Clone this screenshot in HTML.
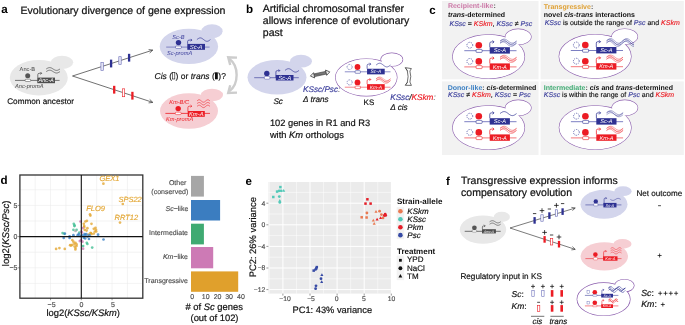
<!DOCTYPE html><html><head><meta charset="utf-8"><style>html,body{margin:0;padding:0;background:#fff;width:685px;height:325px;overflow:hidden}svg{display:block;font-family:"Liberation Sans", sans-serif;will-change:transform;text-rendering:geometricPrecision}</style></head><body>
<svg width="685" height="325" viewBox="0 0 685 325">
<text x="1.3" y="13.3" font-size="11.6" fill="#000" font-weight="bold" font-style="normal" text-anchor="start"  stroke="none">a</text>
<text x="20.5" y="13.6" font-size="10.57" fill="#111111" font-weight="normal" font-style="normal" text-anchor="start"  stroke="#111111" stroke-width="0.222">Evolutionary divergence of gene expression</text>
<ellipse cx="62" cy="62.3" rx="11.2" ry="6.6" fill="#e8e8e8"/>
<ellipse cx="38.8" cy="77.7" rx="29" ry="17.7" fill="#e8e8e8"/>
<text x="19.6" y="70.9" font-size="5.7" fill="#444" font-weight="normal" font-style="normal" text-anchor="start"  stroke="none">Anc-B</text>
<line x1="15" y1="80.4" x2="59.6" y2="80.4" stroke="#555" stroke-width="0.8"/>
<circle cx="27.7" cy="75.7" r="2.5" fill="#555"/>
<rect x="25.1" y="79.2" width="5.6" height="2.3" rx="0.9" fill="#fff" stroke="#444" stroke-width="0.5"/>
<path d="M37.80,77.70 V74.70 Q37.80,73.30 39.20,73.30 H41.70" fill="none" stroke="#444" stroke-width="0.7"/>
<path d="M40.50,72.10 L41.70,73.30 L40.50,74.50" fill="none" stroke="#444" stroke-width="0.7"/>
<rect x="37.30" y="77.60" width="17.70" height="5.60" fill="#4d4d4d"/>
<text x="46.15" y="82.40" font-size="5.60" fill="#fff" font-style="italic" font-weight="normal" text-anchor="middle" stroke="none">Anc-A</text>
<polyline points="46.20,69.00 46.55,68.78 46.89,68.57 47.23,68.36 47.58,68.18 47.93,68.01 48.27,67.87 48.62,67.75 48.96,67.67 49.30,67.62 49.65,67.60 50.00,67.62 50.34,67.67 50.69,67.75 51.03,67.87 51.38,68.01 51.72,68.18 52.06,68.36 52.41,68.57 52.76,68.78 53.10,69.00 53.45,69.22 53.79,69.43 54.13,69.64 54.48,69.82 54.83,69.99 55.17,70.13 55.52,70.25 55.86,70.33 56.20,70.38 56.55,70.40 56.90,70.38 57.24,70.33 57.59,70.25 57.93,70.13 58.27,69.99 58.62,69.82 58.97,69.64 59.31,69.43 59.66,69.22 60.00,69.00" fill="none" stroke="#444" stroke-width="0.7"/>
<polyline points="46.20,71.60 46.55,71.38 46.89,71.17 47.23,70.96 47.58,70.78 47.93,70.61 48.27,70.47 48.62,70.35 48.96,70.27 49.30,70.22 49.65,70.20 50.00,70.22 50.34,70.27 50.69,70.35 51.03,70.47 51.38,70.61 51.72,70.78 52.06,70.96 52.41,71.17 52.76,71.38 53.10,71.60 53.45,71.82 53.79,72.03 54.13,72.24 54.48,72.42 54.83,72.59 55.17,72.73 55.52,72.85 55.86,72.93 56.20,72.98 56.55,73.00 56.90,72.98 57.24,72.93 57.59,72.85 57.93,72.73 58.27,72.59 58.62,72.42 58.97,72.24 59.31,72.03 59.66,71.82 60.00,71.60" fill="none" stroke="#444" stroke-width="0.7"/>
<text x="15" y="87.7" font-size="5.7" fill="#444" font-weight="normal" font-style="italic" text-anchor="start"  stroke="none">Anc-promA</text>
<text x="7.2" y="103.7" font-size="8.2" fill="#111111" font-weight="normal" font-style="normal" text-anchor="start"  stroke="#111111" stroke-width="0.172">Common ancestor</text>
<line x1="72.5" y1="76" x2="152.5" y2="50.2" stroke="#333" stroke-width="0.7"/>
<path d="M148.6,49.6 L152.8,50.1 L149.7,53" fill="none" stroke="#333" stroke-width="0.7"/>
<line x1="72.5" y1="76" x2="152.5" y2="102.3" stroke="#333" stroke-width="0.7"/>
<path d="M149.7,99.4 L152.8,102.4 L148.6,102.9" fill="none" stroke="#333" stroke-width="0.7"/>
<rect x="100.90" y="62.49" width="2.40" height="7.90" fill="#e4e4f4" stroke="#6a6db8" stroke-width="0.6"/>
<rect x="109.95" y="59.63" width="2.30" height="7.80" fill="#2e3192"/>
<rect x="118.80" y="56.71" width="2.40" height="7.90" fill="#e4e4f4" stroke="#6a6db8" stroke-width="0.6"/>
<rect x="127.95" y="53.82" width="2.30" height="7.80" fill="#2e3192"/>
<rect x="113.05" y="85.82" width="2.30" height="7.80" fill="#ec1c24"/>
<rect x="122.30" y="88.83" width="2.40" height="7.90" fill="#fff" stroke="#ec1c24" stroke-width="0.6"/>
<rect x="131.25" y="91.81" width="2.30" height="7.80" fill="#ec1c24"/>
<ellipse cx="212" cy="31.2" rx="10.6" ry="7" fill="#d3d5ec"/>
<ellipse cx="188.9" cy="46.4" rx="29.2" ry="17.7" fill="#d3d5ec"/>
<text x="172.3" y="38.8" font-size="5.7" fill="#3c3f9c" font-weight="normal" font-style="italic" text-anchor="start"  stroke="none">Sc-B</text>
<line x1="166.2" y1="47.1" x2="209.6" y2="47.1" stroke="#7779bd" stroke-width="0.9"/>
<circle cx="178.5" cy="42.6" r="2.7" fill="#2e3192"/>
<rect x="175.5" y="46.0" width="5.9" height="2.4" rx="0.9" fill="#fff" stroke="#2e3192" stroke-width="0.5"/>
<path d="M187.60,43.80 V41.50 Q187.60,40.10 189.00,40.10 H191.90" fill="none" stroke="#2e3192" stroke-width="0.7"/>
<path d="M190.70,38.90 L191.90,40.10 L190.70,41.30" fill="none" stroke="#2e3192" stroke-width="0.7"/>
<rect x="187.30" y="43.90" width="17.70" height="5.90" fill="#2e3192"/>
<text x="196.15" y="48.96" font-size="5.90" fill="#fff" font-style="italic" font-weight="normal" text-anchor="middle" stroke="none">Sc-A</text>
<polyline points="196.90,39.60 197.24,39.33 197.58,39.07 197.91,38.83 198.25,38.60 198.59,38.40 198.93,38.22 199.26,38.09 199.60,37.98 199.94,37.92 200.28,37.90 200.61,37.92 200.95,37.98 201.29,38.09 201.62,38.22 201.96,38.40 202.30,38.60 202.64,38.83 202.97,39.07 203.31,39.33 203.65,39.60 203.99,39.87 204.33,40.13 204.66,40.37 205.00,40.60 205.34,40.80 205.68,40.98 206.01,41.11 206.35,41.22 206.69,41.28 207.03,41.30 207.36,41.28 207.70,41.22 208.04,41.11 208.38,40.98 208.71,40.80 209.05,40.60 209.39,40.37 209.72,40.13 210.06,39.87 210.40,39.60" fill="none" stroke="#2e3192" stroke-width="0.7"/>
<text x="166.9" y="55.3" font-size="5.7" fill="#3c3f9c" font-weight="normal" font-style="italic" text-anchor="start"  stroke="none">Sc-promA</text>
<ellipse cx="212" cy="95" rx="11" ry="6.2" fill="#f6ced3"/>
<ellipse cx="189" cy="111" rx="29" ry="17.8" fill="#f6ced3"/>
<text x="169.2" y="103.8" font-size="5.7" fill="#ec1c24" font-weight="normal" font-style="italic" text-anchor="start"  stroke="none">Km-B/C</text>
<line x1="165.4" y1="113.4" x2="210" y2="113.4" stroke="#ec1c24" stroke-width="0.8"/>
<circle cx="178.2" cy="108.6" r="2.7" fill="#ec1c24"/>
<rect x="175.3" y="112.2" width="5.8" height="2.4" rx="0.9" fill="#fff" stroke="#ec1c24" stroke-width="0.5"/>
<path d="M187.90,111.20 V107.60 Q187.90,106.20 189.30,106.20 H191.80" fill="none" stroke="#ec1c24" stroke-width="0.7"/>
<path d="M190.60,105.00 L191.80,106.20 L190.60,107.40" fill="none" stroke="#ec1c24" stroke-width="0.7"/>
<rect x="187.70" y="111.00" width="17.10" height="5.80" fill="#ec1c24"/>
<text x="196.25" y="115.98" font-size="5.80" fill="#fff" font-style="italic" font-weight="normal" text-anchor="middle" stroke="none">Km-A</text>
<polyline points="197.00,101.00 197.32,100.72 197.65,100.46 197.97,100.22 198.30,100.03 198.62,99.89 198.95,99.81 199.28,99.80 199.60,99.86 199.93,99.98 200.25,100.15 200.57,100.37 200.90,100.63 201.22,100.91 201.55,101.19 201.88,101.46 202.20,101.71 202.53,101.91 202.85,102.07 203.18,102.17 203.50,102.20 203.82,102.17 204.15,102.07 204.47,101.91 204.80,101.71 205.12,101.46 205.45,101.19 205.78,100.91 206.10,100.63 206.43,100.37 206.75,100.15 207.07,99.98 207.40,99.86 207.72,99.80 208.05,99.81 208.38,99.89 208.70,100.03 209.03,100.22 209.35,100.46 209.68,100.72 210.00,101.00" fill="none" stroke="#ec1c24" stroke-width="0.6"/>
<polyline points="197.00,103.70 197.32,103.42 197.65,103.16 197.97,102.92 198.30,102.73 198.62,102.59 198.95,102.51 199.28,102.50 199.60,102.56 199.93,102.68 200.25,102.85 200.57,103.07 200.90,103.33 201.22,103.61 201.55,103.89 201.88,104.16 202.20,104.41 202.53,104.61 202.85,104.77 203.18,104.87 203.50,104.90 203.82,104.87 204.15,104.77 204.47,104.61 204.80,104.41 205.12,104.16 205.45,103.89 205.78,103.61 206.10,103.33 206.43,103.07 206.75,102.85 207.07,102.68 207.40,102.56 207.72,102.50 208.05,102.51 208.38,102.59 208.70,102.73 209.03,102.92 209.35,103.16 209.68,103.42 210.00,103.70" fill="none" stroke="#ec1c24" stroke-width="0.6"/>
<polyline points="197.00,106.40 197.32,106.12 197.65,105.86 197.97,105.62 198.30,105.43 198.62,105.29 198.95,105.21 199.28,105.20 199.60,105.26 199.93,105.38 200.25,105.55 200.57,105.77 200.90,106.03 201.22,106.31 201.55,106.59 201.88,106.86 202.20,107.11 202.53,107.31 202.85,107.47 203.18,107.57 203.50,107.60 203.82,107.57 204.15,107.47 204.47,107.31 204.80,107.11 205.12,106.86 205.45,106.59 205.78,106.31 206.10,106.03 206.43,105.77 206.75,105.55 207.07,105.38 207.40,105.26 207.72,105.20 208.05,105.21 208.38,105.29 208.70,105.43 209.03,105.62 209.35,105.86 209.68,106.12 210.00,106.40" fill="none" stroke="#ec1c24" stroke-width="0.6"/>
<text x="166" y="120.8" font-size="5.7" fill="#ec1c24" font-weight="normal" font-style="italic" text-anchor="start"  stroke="none">Km-promA</text>
<text x="154.6" y="79" font-size="8.5" fill="#111111" stroke="#111111" stroke-width="0.178"><tspan font-style="italic">Cis</tspan> (</text>
<rect x="172.5" y="72.6" width="2.3" height="6.4" fill="none" stroke="#111111" stroke-width="0.6"/>
<text x="175.6" y="79" font-size="8.5" fill="#111111" stroke="#111111" stroke-width="0.178">) or <tspan font-style="italic">trans</tspan> (</text>
<rect x="215" y="72.3" width="2.8" height="7" fill="#111111"/>
<text x="218.3" y="79" font-size="8.5" fill="#111111" stroke="#111111" stroke-width="0.178">)?</text>
<path d="M229.5,59 C239,66 239,84 229.5,91" fill="none" stroke="#cdcdcd" stroke-width="2.4"/>
<path d="M237,57.6 L228.2,57.2 L230.2,65" fill="none" stroke="#cdcdcd" stroke-width="2.4" stroke-linejoin="miter"/>
<path d="M237,92.6 L228.2,93 L230.2,85.2" fill="none" stroke="#cdcdcd" stroke-width="2.4" stroke-linejoin="miter"/>
<text x="246.0" y="13.3" font-size="11.6" fill="#000" font-weight="bold" font-style="normal" text-anchor="start"  stroke="none">b</text>
<text x="262.8" y="11.9" font-size="10.5" fill="#111111" font-weight="normal" font-style="normal" text-anchor="start"  stroke="#111111" stroke-width="0.221">Artificial chromosomal transfer</text>
<text x="262.8" y="23.9" font-size="10.5" fill="#111111" font-weight="normal" font-style="normal" text-anchor="start"  stroke="#111111" stroke-width="0.221">allows inference of evolutionary</text>
<text x="262.8" y="35.9" font-size="10.5" fill="#111111" font-weight="normal" font-style="normal" text-anchor="start"  stroke="#111111" stroke-width="0.221">past</text>
<ellipse cx="301" cy="61.2" rx="11" ry="6.4" fill="#d3d5ec"/>
<ellipse cx="277" cy="77.3" rx="29.5" ry="17.3" fill="#d3d5ec"/>
<line x1="254.2" y1="77.7" x2="298.8" y2="77.7" stroke="#2e3192" stroke-width="0.6"/>
<circle cx="266.8" cy="73.4" r="2.7" fill="#2e3192"/>
<rect x="264.4" y="76.4" width="5.4" height="2.8" rx="0.8" fill="#fff" stroke="#2e3192" stroke-width="0.4"/>
<path d="M275.90,77.70 V72.00 Q275.90,70.60 277.30,70.60 H279.80" fill="none" stroke="#2e3192" stroke-width="0.7"/>
<path d="M278.60,69.40 L279.80,70.60 L278.60,71.80" fill="none" stroke="#2e3192" stroke-width="0.7"/>
<rect x="275.80" y="75.00" width="17.70" height="5.50" fill="#2e3192"/>
<text x="284.65" y="79.90" font-size="6.00" fill="#fff" font-style="italic" font-weight="normal" text-anchor="middle" stroke="none">Sc-A</text>
<polyline points="285.00,70.40 285.35,70.13 285.70,69.87 286.05,69.63 286.40,69.40 286.75,69.20 287.10,69.02 287.45,68.89 287.80,68.78 288.15,68.72 288.50,68.70 288.85,68.72 289.20,68.78 289.55,68.89 289.90,69.02 290.25,69.20 290.60,69.40 290.95,69.63 291.30,69.87 291.65,70.13 292.00,70.40 292.35,70.67 292.70,70.93 293.05,71.17 293.40,71.40 293.75,71.60 294.10,71.78 294.45,71.91 294.80,72.02 295.15,72.08 295.50,72.10 295.85,72.08 296.20,72.02 296.55,71.91 296.90,71.78 297.25,71.60 297.60,71.40 297.95,71.17 298.30,70.93 298.65,70.67 299.00,70.40" fill="none" stroke="#2e3192" stroke-width="0.7"/>
<text x="273.4" y="104" font-size="8.2" fill="#111111" font-weight="normal" font-style="italic" text-anchor="start"  stroke="#111111" stroke-width="0.172">Sc</text>
<text x="269.9" y="126.4" font-size="9.3" fill="#111111" font-weight="normal" font-style="normal" text-anchor="start"  stroke="#111111" stroke-width="0.195">102 genes in R1 and R3</text>
<text x="269.9" y="137.7" font-size="9.3" fill="#111111" stroke="#111111" stroke-width="0.195">with <tspan font-style="italic">Km</tspan> orthologs</text>
<g transform="translate(310.4,76.1) rotate(-12.22)"><rect x="3" y="-1.4" width="13.85" height="2.8" fill="#ddd" stroke="#333" stroke-width="0.55"/><line x1="3.30" y1="1.3" x2="4.70" y2="-1.3" stroke="#333" stroke-width="0.65"/><line x1="4.40" y1="1.3" x2="5.80" y2="-1.3" stroke="#333" stroke-width="0.65"/><line x1="5.50" y1="1.3" x2="6.90" y2="-1.3" stroke="#333" stroke-width="0.65"/><line x1="6.60" y1="1.3" x2="8.00" y2="-1.3" stroke="#333" stroke-width="0.65"/><line x1="7.70" y1="1.3" x2="9.10" y2="-1.3" stroke="#333" stroke-width="0.65"/><line x1="8.80" y1="1.3" x2="10.20" y2="-1.3" stroke="#333" stroke-width="0.65"/><line x1="9.90" y1="1.3" x2="11.30" y2="-1.3" stroke="#333" stroke-width="0.65"/><line x1="11.00" y1="1.3" x2="12.40" y2="-1.3" stroke="#333" stroke-width="0.65"/><line x1="12.10" y1="1.3" x2="13.50" y2="-1.3" stroke="#333" stroke-width="0.65"/><line x1="13.20" y1="1.3" x2="14.60" y2="-1.3" stroke="#333" stroke-width="0.65"/><line x1="14.30" y1="1.3" x2="15.70" y2="-1.3" stroke="#333" stroke-width="0.65"/><line x1="15.40" y1="1.3" x2="16.80" y2="-1.3" stroke="#333" stroke-width="0.65"/><path d="M3.8,-2.7 L0,0 L3.8,2.7 Z" fill="#eee" stroke="#333" stroke-width="0.7" stroke-linejoin="round"/><path d="M16.05,-2.7 L19.85,0 L16.05,2.7 Z" fill="#eee" stroke="#333" stroke-width="0.7" stroke-linejoin="round"/></g>
<text x="303" y="92.2" font-size="8.2" font-style="italic" fill="#3c3f9c" stroke="#3c3f9c" stroke-width="0.172">KSsc/Psc<tspan fill="#777" stroke="#777" stroke-width="0.172">:</tspan></text>
<text x="303" y="102.4" font-size="8.2" fill="#111111" font-style="italic" stroke="#111111" stroke-width="0.172">Δ trans</text>
<ellipse cx="391.8" cy="59.6" rx="10.8" ry="6.4" fill="none" stroke="#8c5fae" stroke-width="1.2"/>
<ellipse cx="366.3" cy="77.4" rx="30.6" ry="18.4" fill="none" stroke="#8c5fae" stroke-width="1.2"/>
<ellipse cx="391.8" cy="59.6" rx="10.8" ry="6.4" fill="#fff"/>
<ellipse cx="366.3" cy="77.4" rx="30.6" ry="18.4" fill="#fff"/>
<circle cx="349.62" cy="67.00" r="2.54" fill="none" stroke="#2e3192" stroke-width="0.74" stroke-dasharray="0.70 0.92"/>
<line x1="344.81" y1="71.81" x2="390.49" y2="71.81" stroke="#5b5eb2" stroke-width="0.70"/>
<circle cx="357.50" cy="67.00" r="2.89" fill="#ec1c24"/>
<rect x="355.14" y="70.67" width="5.25" height="2.62" rx="0.53" fill="#fff" stroke="#2e3192" stroke-width="0.53"/>
<path d="M367.12,68.75 V65.51 Q367.12,64.11 368.52,64.11 H370.80" fill="none" stroke="#2e3192" stroke-width="0.65625"/>
<path d="M369.49,62.80 L370.80,64.11 L369.49,65.42" fill="none" stroke="#2e3192" stroke-width="0.65625"/>
<rect x="367.04" y="68.75" width="17.67" height="5.60" fill="#2e3192"/>
<text x="375.88" y="73.30" font-size="4.90" fill="#fff" font-style="italic" font-weight="normal" text-anchor="middle" stroke="none">Sc-A</text>
<polyline points="376.05,65.08 376.41,64.79 376.77,64.51 377.13,64.24 377.49,63.99 377.85,63.78 378.22,63.59 378.58,63.44 378.94,63.33 379.30,63.26 379.66,63.24 380.02,63.26 380.38,63.33 380.74,63.44 381.10,63.59 381.46,63.78 381.82,63.99 382.19,64.24 382.55,64.51 382.91,64.79 383.27,65.08 383.63,65.36 383.99,65.64 384.35,65.91 384.71,66.16 385.07,66.37 385.43,66.56 385.80,66.71 386.16,66.82 386.52,66.89 386.88,66.91 387.24,66.89 387.60,66.82 387.96,66.71 388.32,66.56 388.68,66.37 389.04,66.16 389.40,65.91 389.77,65.64 390.13,65.36 390.49,65.08" fill="none" stroke="#2e3192" stroke-width="0.65625"/>
<circle cx="349.62" cy="82.40" r="2.54" fill="none" stroke="#2e3192" stroke-width="0.74" stroke-dasharray="0.70 0.92"/>
<line x1="344.81" y1="87.21" x2="390.49" y2="87.21" stroke="#f0555b" stroke-width="0.70"/>
<circle cx="357.50" cy="82.40" r="2.89" fill="#ec1c24"/>
<rect x="355.14" y="86.08" width="5.25" height="2.62" rx="0.53" fill="#fff" stroke="#ec1c24" stroke-width="0.53"/>
<path d="M367.12,84.15 V80.91 Q367.12,79.51 368.52,79.51 H370.80" fill="none" stroke="#ec1c24" stroke-width="0.65625"/>
<path d="M369.49,78.20 L370.80,79.51 L369.49,80.83" fill="none" stroke="#ec1c24" stroke-width="0.65625"/>
<rect x="367.04" y="84.15" width="17.67" height="5.60" fill="#ec1c24"/>
<text x="375.88" y="88.70" font-size="4.90" fill="#fff" font-style="italic" font-weight="normal" text-anchor="middle" stroke="none">Km-A</text>
<polyline points="376.05,78.81 376.41,78.54 376.77,78.27 377.13,78.02 377.49,77.78 377.85,77.58 378.22,77.40 378.58,77.25 378.94,77.15 379.30,77.08 379.66,77.06 380.02,77.08 380.38,77.15 380.74,77.25 381.10,77.40 381.46,77.58 381.82,77.78 382.19,78.02 382.55,78.27 382.91,78.54 383.27,78.81 383.63,79.09 383.99,79.35 384.35,79.61 384.71,79.84 385.07,80.05 385.43,80.23 385.80,80.37 386.16,80.48 386.52,80.54 386.88,80.56 387.24,80.54 387.60,80.48 387.96,80.37 388.32,80.23 388.68,80.05 389.04,79.84 389.40,79.61 389.77,79.35 390.13,79.09 390.49,78.81" fill="none" stroke="#ec1c24" stroke-width="0.39375"/>
<polyline points="376.05,78.94 376.41,78.67 376.77,78.43 377.13,78.21 377.49,78.04 377.85,77.90 378.22,77.81 378.58,77.77 378.94,77.77 379.30,77.82 379.66,77.91 380.02,78.05 380.38,78.23 380.74,78.45 381.10,78.69 381.46,78.96 381.82,79.25 382.19,79.55 382.55,79.85 382.91,80.15 383.27,80.44 383.63,80.71 383.99,80.95 384.35,81.16 384.71,81.34 385.07,81.47 385.43,81.56 385.80,81.61 386.16,81.61 386.52,81.56 386.88,81.46 387.24,81.32 387.60,81.14 387.96,80.93 388.32,80.68 388.68,80.41 389.04,80.12 389.40,79.82 389.77,79.52 390.13,79.22 390.49,78.94" fill="none" stroke="#ec1c24" stroke-width="0.39375"/>
<polyline points="376.05,80.56 376.41,80.29 376.77,80.02 377.13,79.77 377.49,79.53 377.85,79.33 378.22,79.15 378.58,79.00 378.94,78.90 379.30,78.83 379.66,78.81 380.02,78.83 380.38,78.90 380.74,79.00 381.10,79.15 381.46,79.33 381.82,79.53 382.19,79.77 382.55,80.02 382.91,80.29 383.27,80.56 383.63,80.84 383.99,81.10 384.35,81.36 384.71,81.59 385.07,81.80 385.43,81.98 385.80,82.12 386.16,82.23 386.52,82.29 386.88,82.31 387.24,82.29 387.60,82.23 387.96,82.12 388.32,81.98 388.68,81.80 389.04,81.59 389.40,81.36 389.77,81.10 390.13,80.84 390.49,80.56" fill="none" stroke="#ec1c24" stroke-width="0.39375"/>
<polyline points="376.05,80.69 376.41,80.42 376.77,80.18 377.13,79.96 377.49,79.79 377.85,79.65 378.22,79.56 378.58,79.52 378.94,79.52 379.30,79.57 379.66,79.66 380.02,79.80 380.38,79.98 380.74,80.20 381.10,80.44 381.46,80.71 381.82,81.00 382.19,81.30 382.55,81.60 382.91,81.90 383.27,82.19 383.63,82.46 383.99,82.70 384.35,82.91 384.71,83.09 385.07,83.22 385.43,83.31 385.80,83.36 386.16,83.36 386.52,83.31 386.88,83.21 387.24,83.07 387.60,82.89 387.96,82.68 388.32,82.43 388.68,82.16 389.04,81.87 389.40,81.57 389.77,81.27 390.13,80.97 390.49,80.69" fill="none" stroke="#ec1c24" stroke-width="0.39375"/>
<text x="363.6" y="104.8" font-size="8" fill="#111111" font-weight="normal" font-style="normal" text-anchor="start"  stroke="#111111" stroke-width="0.168">KS</text>
<path d="M405.2,67.6 L411.4,68.6 L409.9,71.0 Q411.6,76.5 409.9,82.0 L411.4,85.4 L405.2,85.3 L407.3,82.4 Q408.9,76.5 407.3,70.8 Z" fill="#fff" stroke="#222" stroke-width="0.65" stroke-linejoin="round"/>
<path d="M405.8,68.2 L407.6,71.2 M405.8,84.8 L407.6,82.0" fill="none" stroke="#222" stroke-width="0.5"/>
<text x="390.2" y="100.2" font-size="8.2" font-style="italic" fill="#3c3f9c" stroke="#3c3f9c" stroke-width="0.172">KSsc<tspan fill="#111111" stroke="#111111" stroke-width="0.172">/</tspan><tspan fill="#ec1c24" stroke="#ec1c24" stroke-width="0.172">KSkm</tspan><tspan fill="#777" stroke="#777" stroke-width="0.172">:</tspan></text>
<text x="390.2" y="109.6" font-size="8.2" fill="#111111" font-style="italic" stroke="#111111" stroke-width="0.172">Δ cis</text>
<text x="429.3" y="13.5" font-size="11.6" fill="#000" font-weight="bold" font-style="normal" text-anchor="start"  stroke="none">c</text>
<rect x="442" y="1" width="96.5" height="78.3" fill="#f2f2f2"/>
<rect x="540.6" y="1" width="143.2" height="78.3" fill="#f2f2f2"/>
<rect x="442" y="81.4" width="96.5" height="73.6" fill="#f2f2f2"/>
<rect x="540.6" y="81.4" width="143.2" height="73.6" fill="#f2f2f2"/>
<text x="447.9" y="8.4" font-size="7" fill="#111111" stroke="#111111" stroke-width="0.147"><tspan fill="#cc79a7" font-weight="bold" stroke="none">Recipient-like</tspan><tspan fill="#555" font-weight="bold" stroke="none">:</tspan></text>
<text x="447.9" y="16.6" font-size="7" fill="#111111" stroke="#111111" stroke-width="0.147"><tspan font-weight="bold" font-style="italic" stroke="none">trans</tspan><tspan font-weight="bold" stroke="none">-determined</tspan></text>
<text x="449.5" y="26.4" font-size="7" fill="#111111" stroke="#111111" stroke-width="0.147"><tspan fill="#3c3f9c" font-style="italic" stroke="#3c3f9c" stroke-width="0.147">KSsc</tspan><tspan> = </tspan><tspan fill="#ec1c24" font-style="italic" stroke="#ec1c24" stroke-width="0.147">KSkm</tspan><tspan>, </tspan><tspan fill="#3c3f9c" font-style="italic" stroke="#3c3f9c" stroke-width="0.147">KSsc</tspan><tspan> ≠ </tspan><tspan fill="#3c3f9c" font-style="italic" stroke="#3c3f9c" stroke-width="0.147">Psc</tspan></text>
<text x="543.8" y="8.5" font-size="7" fill="#111111" stroke="#111111" stroke-width="0.147"><tspan fill="#dfa033" font-weight="bold" stroke="none">Transgressive</tspan><tspan fill="#555" font-weight="bold" stroke="none">:</tspan></text>
<text x="543.8" y="16.5" font-size="7" fill="#111111" stroke="#111111" stroke-width="0.147"><tspan font-weight="bold" stroke="none">novel </tspan><tspan font-weight="bold" font-style="italic" stroke="none">cis-trans</tspan><tspan font-weight="bold" stroke="none"> interactions</tspan></text>
<text x="544.7" y="25.0" font-size="7" fill="#111111" stroke="#111111" stroke-width="0.147"><tspan fill="#3c3f9c" font-style="italic" stroke="#3c3f9c" stroke-width="0.147">KSsc</tspan><tspan> is outside the range of </tspan><tspan fill="#3c3f9c" font-style="italic" stroke="#3c3f9c" stroke-width="0.147">Psc</tspan><tspan> and </tspan><tspan fill="#ec1c24" font-style="italic" stroke="#ec1c24" stroke-width="0.147">KSkm</tspan></text>
<text x="447.7" y="90.3" font-size="7" fill="#111111" stroke="#111111" stroke-width="0.147"><tspan fill="#3d80c3" font-weight="bold" stroke="none">Donor-like</tspan><tspan fill="#555" font-weight="bold" stroke="none">: </tspan><tspan font-weight="bold" font-style="italic" stroke="none">cis</tspan><tspan font-weight="bold" stroke="none">-determined</tspan></text>
<text x="448.0" y="96.7" font-size="7" fill="#111111" stroke="#111111" stroke-width="0.147"><tspan fill="#3c3f9c" font-style="italic" stroke="#3c3f9c" stroke-width="0.147">KSsc</tspan><tspan> ≠ </tspan><tspan fill="#ec1c24" font-style="italic" stroke="#ec1c24" stroke-width="0.147">KSkm</tspan><tspan>, </tspan><tspan fill="#3c3f9c" font-style="italic" stroke="#3c3f9c" stroke-width="0.147">KSsc</tspan><tspan> = </tspan><tspan fill="#3c3f9c" font-style="italic" stroke="#3c3f9c" stroke-width="0.147">Psc</tspan></text>
<text x="543.8" y="90.0" font-size="7" fill="#111111" stroke="#111111" stroke-width="0.147"><tspan fill="#3faa72" font-weight="bold" stroke="none">Intermediate</tspan><tspan fill="#555" font-weight="bold" stroke="none">: </tspan><tspan font-weight="bold" font-style="italic" stroke="none">cis</tspan><tspan font-weight="bold" stroke="none"> and </tspan><tspan font-weight="bold" font-style="italic" stroke="none">trans</tspan><tspan font-weight="bold" stroke="none">-determined</tspan></text>
<text x="543.8" y="96.6" font-size="7" fill="#111111" stroke="#111111" stroke-width="0.147"><tspan fill="#3c3f9c" font-style="italic" stroke="#3c3f9c" stroke-width="0.147">KSsc</tspan><tspan> is within the range of </tspan><tspan fill="#3c3f9c" font-style="italic" stroke="#3c3f9c" stroke-width="0.147">Psc</tspan><tspan> and </tspan><tspan fill="#ec1c24" font-style="italic" stroke="#ec1c24" stroke-width="0.147">KSkm</tspan></text>
<ellipse cx="518.2" cy="36.8" rx="12.8" ry="7.6" fill="none" stroke="#8c5fae" stroke-width="1.2"/>
<ellipse cx="488.6" cy="56.6" rx="35.9" ry="21.8" fill="none" stroke="#8c5fae" stroke-width="1.2"/>
<ellipse cx="518.2" cy="36.8" rx="12.8" ry="7.6" fill="#fff"/>
<ellipse cx="488.6" cy="56.6" rx="35.9" ry="21.8" fill="#fff"/>
<circle cx="469.80" cy="45.20" r="2.90" fill="none" stroke="#2e3192" stroke-width="0.85" stroke-dasharray="0.80 1.05"/>
<line x1="464.30" y1="50.70" x2="516.50" y2="50.70" stroke="#5b5eb2" stroke-width="0.80"/>
<circle cx="478.80" cy="45.20" r="3.30" fill="#ec1c24"/>
<rect x="476.10" y="49.40" width="6.00" height="3.00" rx="0.60" fill="#fff" stroke="#2e3192" stroke-width="0.60"/>
<path d="M489.80,47.20 V43.30 Q489.80,41.90 491.20,41.90 H494.00" fill="none" stroke="#2e3192" stroke-width="0.75"/>
<path d="M492.50,40.40 L494.00,41.90 L492.50,43.40" fill="none" stroke="#2e3192" stroke-width="0.75"/>
<rect x="489.70" y="47.20" width="20.20" height="6.40" fill="#2e3192"/>
<text x="499.80" y="52.40" font-size="5.60" fill="#fff" font-style="italic" font-weight="normal" text-anchor="middle" stroke="none">Sc-A</text>
<polyline points="500.00,41.10 500.41,40.79 500.82,40.48 501.24,40.19 501.65,39.92 502.06,39.69 502.48,39.48 502.89,39.32 503.30,39.20 503.71,39.12 504.12,39.10 504.54,39.12 504.95,39.20 505.36,39.32 505.77,39.48 506.19,39.69 506.60,39.92 507.01,40.19 507.43,40.48 507.84,40.79 508.25,41.10 508.66,41.41 509.07,41.72 509.49,42.01 509.90,42.28 510.31,42.51 510.73,42.72 511.14,42.88 511.55,43.00 511.96,43.08 512.38,43.10 512.79,43.08 513.20,43.00 513.61,42.88 514.02,42.72 514.44,42.51 514.85,42.28 515.26,42.01 515.67,41.72 516.09,41.41 516.50,41.10" fill="none" stroke="#2e3192" stroke-width="0.45"/>
<polyline points="500.00,41.24 500.41,40.94 500.82,40.66 501.24,40.42 501.65,40.22 502.06,40.06 502.48,39.96 502.89,39.91 503.30,39.91 503.71,39.96 504.12,40.07 504.54,40.23 504.95,40.44 505.36,40.68 505.77,40.96 506.19,41.27 506.60,41.60 507.01,41.94 507.43,42.29 507.84,42.63 508.25,42.96 508.66,43.26 509.07,43.54 509.49,43.78 509.90,43.98 510.31,44.14 510.73,44.24 511.14,44.29 511.55,44.29 511.96,44.24 512.38,44.13 512.79,43.97 513.20,43.76 513.61,43.52 514.02,43.24 514.44,42.93 514.85,42.60 515.26,42.26 515.67,41.91 516.09,41.57 516.50,41.24" fill="none" stroke="#2e3192" stroke-width="0.45"/>
<polyline points="500.00,43.10 500.41,42.79 500.82,42.48 501.24,42.19 501.65,41.92 502.06,41.69 502.48,41.48 502.89,41.32 503.30,41.20 503.71,41.12 504.12,41.10 504.54,41.12 504.95,41.20 505.36,41.32 505.77,41.48 506.19,41.69 506.60,41.92 507.01,42.19 507.43,42.48 507.84,42.79 508.25,43.10 508.66,43.41 509.07,43.72 509.49,44.01 509.90,44.28 510.31,44.51 510.73,44.72 511.14,44.88 511.55,45.00 511.96,45.08 512.38,45.10 512.79,45.08 513.20,45.00 513.61,44.88 514.02,44.72 514.44,44.51 514.85,44.28 515.26,44.01 515.67,43.72 516.09,43.41 516.50,43.10" fill="none" stroke="#2e3192" stroke-width="0.45"/>
<polyline points="500.00,43.24 500.41,42.94 500.82,42.66 501.24,42.42 501.65,42.22 502.06,42.06 502.48,41.96 502.89,41.91 503.30,41.91 503.71,41.96 504.12,42.07 504.54,42.23 504.95,42.44 505.36,42.68 505.77,42.96 506.19,43.27 506.60,43.60 507.01,43.94 507.43,44.29 507.84,44.63 508.25,44.96 508.66,45.26 509.07,45.54 509.49,45.78 509.90,45.98 510.31,46.14 510.73,46.24 511.14,46.29 511.55,46.29 511.96,46.24 512.38,46.13 512.79,45.97 513.20,45.76 513.61,45.52 514.02,45.24 514.44,44.93 514.85,44.60 515.26,44.26 515.67,43.91 516.09,43.57 516.50,43.24" fill="none" stroke="#2e3192" stroke-width="0.45"/>
<circle cx="469.80" cy="61.40" r="2.90" fill="none" stroke="#2e3192" stroke-width="0.85" stroke-dasharray="0.80 1.05"/>
<line x1="464.30" y1="66.90" x2="516.50" y2="66.90" stroke="#f0555b" stroke-width="0.80"/>
<circle cx="478.80" cy="61.40" r="3.30" fill="#ec1c24"/>
<rect x="476.10" y="65.60" width="6.00" height="3.00" rx="0.60" fill="#fff" stroke="#ec1c24" stroke-width="0.60"/>
<path d="M489.80,63.40 V59.50 Q489.80,58.10 491.20,58.10 H494.00" fill="none" stroke="#ec1c24" stroke-width="0.75"/>
<path d="M492.50,56.60 L494.00,58.10 L492.50,59.60" fill="none" stroke="#ec1c24" stroke-width="0.75"/>
<rect x="489.70" y="63.40" width="20.20" height="6.40" fill="#ec1c24"/>
<text x="499.80" y="68.60" font-size="5.60" fill="#fff" font-style="italic" font-weight="normal" text-anchor="middle" stroke="none">Km-A</text>
<polyline points="500.00,57.30 500.41,56.99 500.82,56.68 501.24,56.39 501.65,56.12 502.06,55.89 502.48,55.68 502.89,55.52 503.30,55.40 503.71,55.32 504.12,55.30 504.54,55.32 504.95,55.40 505.36,55.52 505.77,55.68 506.19,55.89 506.60,56.12 507.01,56.39 507.43,56.68 507.84,56.99 508.25,57.30 508.66,57.61 509.07,57.92 509.49,58.21 509.90,58.48 510.31,58.71 510.73,58.92 511.14,59.08 511.55,59.20 511.96,59.28 512.38,59.30 512.79,59.28 513.20,59.20 513.61,59.08 514.02,58.92 514.44,58.71 514.85,58.48 515.26,58.21 515.67,57.92 516.09,57.61 516.50,57.30" fill="none" stroke="#ec1c24" stroke-width="0.45"/>
<polyline points="500.00,57.44 500.41,57.14 500.82,56.86 501.24,56.62 501.65,56.42 502.06,56.26 502.48,56.16 502.89,56.11 503.30,56.11 503.71,56.16 504.12,56.27 504.54,56.43 504.95,56.64 505.36,56.88 505.77,57.16 506.19,57.47 506.60,57.80 507.01,58.14 507.43,58.49 507.84,58.83 508.25,59.16 508.66,59.46 509.07,59.74 509.49,59.98 509.90,60.18 510.31,60.34 510.73,60.44 511.14,60.49 511.55,60.49 511.96,60.44 512.38,60.33 512.79,60.17 513.20,59.96 513.61,59.72 514.02,59.44 514.44,59.13 514.85,58.80 515.26,58.46 515.67,58.11 516.09,57.77 516.50,57.44" fill="none" stroke="#ec1c24" stroke-width="0.45"/>
<polyline points="500.00,59.30 500.41,58.99 500.82,58.68 501.24,58.39 501.65,58.12 502.06,57.89 502.48,57.68 502.89,57.52 503.30,57.40 503.71,57.32 504.12,57.30 504.54,57.32 504.95,57.40 505.36,57.52 505.77,57.68 506.19,57.89 506.60,58.12 507.01,58.39 507.43,58.68 507.84,58.99 508.25,59.30 508.66,59.61 509.07,59.92 509.49,60.21 509.90,60.48 510.31,60.71 510.73,60.92 511.14,61.08 511.55,61.20 511.96,61.28 512.38,61.30 512.79,61.28 513.20,61.20 513.61,61.08 514.02,60.92 514.44,60.71 514.85,60.48 515.26,60.21 515.67,59.92 516.09,59.61 516.50,59.30" fill="none" stroke="#ec1c24" stroke-width="0.45"/>
<polyline points="500.00,59.44 500.41,59.14 500.82,58.86 501.24,58.62 501.65,58.42 502.06,58.26 502.48,58.16 502.89,58.11 503.30,58.11 503.71,58.16 504.12,58.27 504.54,58.43 504.95,58.64 505.36,58.88 505.77,59.16 506.19,59.47 506.60,59.80 507.01,60.14 507.43,60.49 507.84,60.83 508.25,61.16 508.66,61.46 509.07,61.74 509.49,61.98 509.90,62.18 510.31,62.34 510.73,62.44 511.14,62.49 511.55,62.49 511.96,62.44 512.38,62.33 512.79,62.17 513.20,61.96 513.61,61.72 514.02,61.44 514.44,61.13 514.85,60.80 515.26,60.46 515.67,60.11 516.09,59.77 516.50,59.44" fill="none" stroke="#ec1c24" stroke-width="0.45"/>
<ellipse cx="624.7" cy="36.599999999999994" rx="12.8" ry="7.6" fill="none" stroke="#8c5fae" stroke-width="1.2"/>
<ellipse cx="595.1" cy="56.4" rx="35.9" ry="21.8" fill="none" stroke="#8c5fae" stroke-width="1.2"/>
<ellipse cx="624.7" cy="36.599999999999994" rx="12.8" ry="7.6" fill="#fff"/>
<ellipse cx="595.1" cy="56.4" rx="35.9" ry="21.8" fill="#fff"/>
<circle cx="576.30" cy="45.00" r="2.90" fill="none" stroke="#2e3192" stroke-width="0.85" stroke-dasharray="0.80 1.05"/>
<line x1="570.80" y1="50.50" x2="623.00" y2="50.50" stroke="#5b5eb2" stroke-width="0.80"/>
<circle cx="585.30" cy="45.00" r="3.30" fill="#ec1c24"/>
<rect x="582.60" y="49.20" width="6.00" height="3.00" rx="0.60" fill="#fff" stroke="#2e3192" stroke-width="0.60"/>
<path d="M596.30,47.00 V43.10 Q596.30,41.70 597.70,41.70 H600.50" fill="none" stroke="#2e3192" stroke-width="0.75"/>
<path d="M599.00,40.20 L600.50,41.70 L599.00,43.20" fill="none" stroke="#2e3192" stroke-width="0.75"/>
<rect x="596.20" y="47.00" width="20.20" height="6.40" fill="#2e3192"/>
<text x="606.30" y="52.20" font-size="5.60" fill="#fff" font-style="italic" font-weight="normal" text-anchor="middle" stroke="none">Sc-A</text>
<polyline points="606.50,40.90 607.19,40.29 607.88,39.73 608.56,39.25 609.25,38.88 609.94,38.66 610.62,38.60 611.31,38.70 612.00,38.96 612.69,39.35 613.38,39.86 614.06,40.43 614.75,41.04 615.44,41.65 616.12,42.19 616.81,42.65 617.50,42.98 618.19,43.17 618.88,43.19 619.56,43.05 620.25,42.76 620.94,42.34 621.62,41.81 622.31,41.22 623.00,40.61 623.69,40.02 624.38,39.49 625.06,39.06 625.75,38.76 626.44,38.61 627.12,38.63 627.81,38.80 628.50,39.13 629.19,39.58 629.88,40.12 630.56,40.72 631.25,41.33 631.94,41.91 632.62,42.42 633.31,42.82 634.00,43.09" fill="none" stroke="#2e3192" stroke-width="0.45"/>
<polyline points="606.50,40.91 607.19,40.33 607.88,39.87 608.56,39.54 609.25,39.38 609.94,39.40 610.62,39.60 611.31,39.96 612.00,40.46 612.69,41.06 613.38,41.72 614.06,42.39 614.75,43.03 615.44,43.59 616.12,44.02 616.81,44.31 617.50,44.43 618.19,44.36 618.88,44.13 619.56,43.73 620.25,43.21 620.94,42.59 621.62,41.92 622.31,41.25 623.00,40.63 623.69,40.10 624.38,39.69 625.06,39.44 625.75,39.37 626.44,39.48 627.12,39.75 627.81,40.18 628.50,40.73 629.19,41.37 629.88,42.04 630.56,42.70 631.25,43.30 631.94,43.81 632.62,44.18 633.31,44.39 634.00,44.42" fill="none" stroke="#2e3192" stroke-width="0.45"/>
<polyline points="606.50,42.90 607.19,42.29 607.88,41.73 608.56,41.25 609.25,40.88 609.94,40.66 610.62,40.60 611.31,40.70 612.00,40.96 612.69,41.35 613.38,41.86 614.06,42.43 614.75,43.04 615.44,43.65 616.12,44.19 616.81,44.65 617.50,44.98 618.19,45.17 618.88,45.19 619.56,45.05 620.25,44.76 620.94,44.34 621.62,43.81 622.31,43.22 623.00,42.61 623.69,42.02 624.38,41.49 625.06,41.06 625.75,40.76 626.44,40.61 627.12,40.63 627.81,40.80 628.50,41.13 629.19,41.58 629.88,42.12 630.56,42.72 631.25,43.33 631.94,43.91 632.62,44.42 633.31,44.82 634.00,45.09" fill="none" stroke="#2e3192" stroke-width="0.45"/>
<polyline points="606.50,42.91 607.19,42.33 607.88,41.87 608.56,41.54 609.25,41.38 609.94,41.40 610.62,41.60 611.31,41.96 612.00,42.46 612.69,43.06 613.38,43.72 614.06,44.39 614.75,45.03 615.44,45.59 616.12,46.02 616.81,46.31 617.50,46.43 618.19,46.36 618.88,46.13 619.56,45.73 620.25,45.21 620.94,44.59 621.62,43.92 622.31,43.25 623.00,42.63 623.69,42.10 624.38,41.69 625.06,41.44 625.75,41.37 626.44,41.48 627.12,41.75 627.81,42.18 628.50,42.73 629.19,43.37 629.88,44.04 630.56,44.70 631.25,45.30 631.94,45.81 632.62,46.18 633.31,46.39 634.00,46.42" fill="none" stroke="#2e3192" stroke-width="0.45"/>
<circle cx="576.30" cy="61.20" r="2.90" fill="none" stroke="#2e3192" stroke-width="0.85" stroke-dasharray="0.80 1.05"/>
<line x1="570.80" y1="66.70" x2="623.00" y2="66.70" stroke="#f0555b" stroke-width="0.80"/>
<circle cx="585.30" cy="61.20" r="3.30" fill="#ec1c24"/>
<rect x="582.60" y="65.40" width="6.00" height="3.00" rx="0.60" fill="#fff" stroke="#ec1c24" stroke-width="0.60"/>
<path d="M596.30,63.20 V59.30 Q596.30,57.90 597.70,57.90 H600.50" fill="none" stroke="#ec1c24" stroke-width="0.75"/>
<path d="M599.00,56.40 L600.50,57.90 L599.00,59.40" fill="none" stroke="#ec1c24" stroke-width="0.75"/>
<rect x="596.20" y="63.20" width="20.20" height="6.40" fill="#ec1c24"/>
<text x="606.30" y="68.40" font-size="5.60" fill="#fff" font-style="italic" font-weight="normal" text-anchor="middle" stroke="none">Km-A</text>
<polyline points="606.50,57.10 606.91,56.79 607.33,56.48 607.74,56.19 608.15,55.92 608.56,55.69 608.98,55.48 609.39,55.32 609.80,55.20 610.21,55.12 610.62,55.10 611.04,55.12 611.45,55.20 611.86,55.32 612.27,55.48 612.69,55.69 613.10,55.92 613.51,56.19 613.92,56.48 614.34,56.79 614.75,57.10 615.16,57.41 615.58,57.72 615.99,58.01 616.40,58.28 616.81,58.51 617.23,58.72 617.64,58.88 618.05,59.00 618.46,59.08 618.88,59.10 619.29,59.08 619.70,59.00 620.11,58.88 620.52,58.72 620.94,58.51 621.35,58.28 621.76,58.01 622.17,57.72 622.59,57.41 623.00,57.10" fill="none" stroke="#ec1c24" stroke-width="0.45"/>
<polyline points="606.50,57.24 606.91,56.94 607.33,56.66 607.74,56.42 608.15,56.22 608.56,56.06 608.98,55.96 609.39,55.91 609.80,55.91 610.21,55.96 610.62,56.07 611.04,56.23 611.45,56.44 611.86,56.68 612.27,56.96 612.69,57.27 613.10,57.60 613.51,57.94 613.92,58.29 614.34,58.63 614.75,58.96 615.16,59.26 615.58,59.54 615.99,59.78 616.40,59.98 616.81,60.14 617.23,60.24 617.64,60.29 618.05,60.29 618.46,60.24 618.88,60.13 619.29,59.97 619.70,59.76 620.11,59.52 620.52,59.24 620.94,58.93 621.35,58.60 621.76,58.26 622.17,57.91 622.59,57.57 623.00,57.24" fill="none" stroke="#ec1c24" stroke-width="0.45"/>
<polyline points="606.50,59.10 606.91,58.79 607.33,58.48 607.74,58.19 608.15,57.92 608.56,57.69 608.98,57.48 609.39,57.32 609.80,57.20 610.21,57.12 610.62,57.10 611.04,57.12 611.45,57.20 611.86,57.32 612.27,57.48 612.69,57.69 613.10,57.92 613.51,58.19 613.92,58.48 614.34,58.79 614.75,59.10 615.16,59.41 615.58,59.72 615.99,60.01 616.40,60.28 616.81,60.51 617.23,60.72 617.64,60.88 618.05,61.00 618.46,61.08 618.88,61.10 619.29,61.08 619.70,61.00 620.11,60.88 620.52,60.72 620.94,60.51 621.35,60.28 621.76,60.01 622.17,59.72 622.59,59.41 623.00,59.10" fill="none" stroke="#ec1c24" stroke-width="0.45"/>
<polyline points="606.50,59.24 606.91,58.94 607.33,58.66 607.74,58.42 608.15,58.22 608.56,58.06 608.98,57.96 609.39,57.91 609.80,57.91 610.21,57.96 610.62,58.07 611.04,58.23 611.45,58.44 611.86,58.68 612.27,58.96 612.69,59.27 613.10,59.60 613.51,59.94 613.92,60.29 614.34,60.63 614.75,60.96 615.16,61.26 615.58,61.54 615.99,61.78 616.40,61.98 616.81,62.14 617.23,62.24 617.64,62.29 618.05,62.29 618.46,62.24 618.88,62.13 619.29,61.97 619.70,61.76 620.11,61.52 620.52,61.24 620.94,60.93 621.35,60.60 621.76,60.26 622.17,59.91 622.59,59.57 623.00,59.24" fill="none" stroke="#ec1c24" stroke-width="0.45"/>
<ellipse cx="518.2" cy="107.8" rx="12.8" ry="7.6" fill="none" stroke="#8c5fae" stroke-width="1.2"/>
<ellipse cx="488.6" cy="127.6" rx="35.9" ry="21.8" fill="none" stroke="#8c5fae" stroke-width="1.2"/>
<ellipse cx="518.2" cy="107.8" rx="12.8" ry="7.6" fill="#fff"/>
<ellipse cx="488.6" cy="127.6" rx="35.9" ry="21.8" fill="#fff"/>
<circle cx="469.80" cy="116.20" r="2.90" fill="none" stroke="#2e3192" stroke-width="0.85" stroke-dasharray="0.80 1.05"/>
<line x1="464.30" y1="121.70" x2="516.50" y2="121.70" stroke="#5b5eb2" stroke-width="0.80"/>
<circle cx="478.80" cy="116.20" r="3.30" fill="#ec1c24"/>
<rect x="476.10" y="120.40" width="6.00" height="3.00" rx="0.60" fill="#fff" stroke="#2e3192" stroke-width="0.60"/>
<path d="M489.80,118.20 V114.30 Q489.80,112.90 491.20,112.90 H494.00" fill="none" stroke="#2e3192" stroke-width="0.75"/>
<path d="M492.50,111.40 L494.00,112.90 L492.50,114.40" fill="none" stroke="#2e3192" stroke-width="0.75"/>
<rect x="489.70" y="118.20" width="20.20" height="6.40" fill="#2e3192"/>
<text x="499.80" y="123.40" font-size="5.60" fill="#fff" font-style="italic" font-weight="normal" text-anchor="middle" stroke="none">Sc-A</text>
<polyline points="500.00,113.60 500.41,113.29 500.82,112.98 501.24,112.69 501.65,112.42 502.06,112.19 502.48,111.98 502.89,111.82 503.30,111.70 503.71,111.62 504.12,111.60 504.54,111.62 504.95,111.70 505.36,111.82 505.77,111.98 506.19,112.19 506.60,112.42 507.01,112.69 507.43,112.98 507.84,113.29 508.25,113.60 508.66,113.91 509.07,114.22 509.49,114.51 509.90,114.78 510.31,115.01 510.73,115.22 511.14,115.38 511.55,115.50 511.96,115.58 512.38,115.60 512.79,115.58 513.20,115.50 513.61,115.38 514.02,115.22 514.44,115.01 514.85,114.78 515.26,114.51 515.67,114.22 516.09,113.91 516.50,113.60" fill="none" stroke="#2e3192" stroke-width="0.75"/>
<circle cx="469.80" cy="132.40" r="2.90" fill="none" stroke="#2e3192" stroke-width="0.85" stroke-dasharray="0.80 1.05"/>
<line x1="464.30" y1="137.90" x2="516.50" y2="137.90" stroke="#f0555b" stroke-width="0.80"/>
<circle cx="478.80" cy="132.40" r="3.30" fill="#ec1c24"/>
<rect x="476.10" y="136.60" width="6.00" height="3.00" rx="0.60" fill="#fff" stroke="#ec1c24" stroke-width="0.60"/>
<path d="M489.80,134.40 V130.50 Q489.80,129.10 491.20,129.10 H494.00" fill="none" stroke="#ec1c24" stroke-width="0.75"/>
<path d="M492.50,127.60 L494.00,129.10 L492.50,130.60" fill="none" stroke="#ec1c24" stroke-width="0.75"/>
<rect x="489.70" y="134.40" width="20.20" height="6.40" fill="#ec1c24"/>
<text x="499.80" y="139.60" font-size="5.60" fill="#fff" font-style="italic" font-weight="normal" text-anchor="middle" stroke="none">Km-A</text>
<polyline points="500.00,128.30 500.41,127.99 500.82,127.68 501.24,127.39 501.65,127.12 502.06,126.89 502.48,126.68 502.89,126.52 503.30,126.40 503.71,126.32 504.12,126.30 504.54,126.32 504.95,126.40 505.36,126.52 505.77,126.68 506.19,126.89 506.60,127.12 507.01,127.39 507.43,127.68 507.84,127.99 508.25,128.30 508.66,128.61 509.07,128.92 509.49,129.21 509.90,129.48 510.31,129.71 510.73,129.92 511.14,130.08 511.55,130.20 511.96,130.28 512.38,130.30 512.79,130.28 513.20,130.20 513.61,130.08 514.02,129.92 514.44,129.71 514.85,129.48 515.26,129.21 515.67,128.92 516.09,128.61 516.50,128.30" fill="none" stroke="#ec1c24" stroke-width="0.45"/>
<polyline points="500.00,128.44 500.41,128.14 500.82,127.86 501.24,127.62 501.65,127.42 502.06,127.26 502.48,127.16 502.89,127.11 503.30,127.11 503.71,127.16 504.12,127.27 504.54,127.43 504.95,127.64 505.36,127.88 505.77,128.16 506.19,128.47 506.60,128.80 507.01,129.14 507.43,129.49 507.84,129.83 508.25,130.16 508.66,130.46 509.07,130.74 509.49,130.98 509.90,131.18 510.31,131.34 510.73,131.44 511.14,131.49 511.55,131.49 511.96,131.44 512.38,131.33 512.79,131.17 513.20,130.96 513.61,130.72 514.02,130.44 514.44,130.13 514.85,129.80 515.26,129.46 515.67,129.11 516.09,128.77 516.50,128.44" fill="none" stroke="#ec1c24" stroke-width="0.45"/>
<polyline points="500.00,130.30 500.41,129.99 500.82,129.68 501.24,129.39 501.65,129.12 502.06,128.89 502.48,128.68 502.89,128.52 503.30,128.40 503.71,128.32 504.12,128.30 504.54,128.32 504.95,128.40 505.36,128.52 505.77,128.68 506.19,128.89 506.60,129.12 507.01,129.39 507.43,129.68 507.84,129.99 508.25,130.30 508.66,130.61 509.07,130.92 509.49,131.21 509.90,131.48 510.31,131.71 510.73,131.92 511.14,132.08 511.55,132.20 511.96,132.28 512.38,132.30 512.79,132.28 513.20,132.20 513.61,132.08 514.02,131.92 514.44,131.71 514.85,131.48 515.26,131.21 515.67,130.92 516.09,130.61 516.50,130.30" fill="none" stroke="#ec1c24" stroke-width="0.45"/>
<polyline points="500.00,130.44 500.41,130.14 500.82,129.86 501.24,129.62 501.65,129.42 502.06,129.26 502.48,129.16 502.89,129.11 503.30,129.11 503.71,129.16 504.12,129.27 504.54,129.43 504.95,129.64 505.36,129.88 505.77,130.16 506.19,130.47 506.60,130.80 507.01,131.14 507.43,131.49 507.84,131.83 508.25,132.16 508.66,132.46 509.07,132.74 509.49,132.98 509.90,133.18 510.31,133.34 510.73,133.44 511.14,133.49 511.55,133.49 511.96,133.44 512.38,133.33 512.79,133.17 513.20,132.96 513.61,132.72 514.02,132.44 514.44,132.13 514.85,131.80 515.26,131.46 515.67,131.11 516.09,130.77 516.50,130.44" fill="none" stroke="#ec1c24" stroke-width="0.45"/>
<ellipse cx="624.8000000000001" cy="107.8" rx="12.8" ry="7.6" fill="none" stroke="#8c5fae" stroke-width="1.2"/>
<ellipse cx="595.2" cy="127.6" rx="35.9" ry="21.8" fill="none" stroke="#8c5fae" stroke-width="1.2"/>
<ellipse cx="624.8000000000001" cy="107.8" rx="12.8" ry="7.6" fill="#fff"/>
<ellipse cx="595.2" cy="127.6" rx="35.9" ry="21.8" fill="#fff"/>
<circle cx="576.40" cy="116.20" r="2.90" fill="none" stroke="#2e3192" stroke-width="0.85" stroke-dasharray="0.80 1.05"/>
<line x1="570.90" y1="121.70" x2="623.10" y2="121.70" stroke="#5b5eb2" stroke-width="0.80"/>
<circle cx="585.40" cy="116.20" r="3.30" fill="#ec1c24"/>
<rect x="582.70" y="120.40" width="6.00" height="3.00" rx="0.60" fill="#fff" stroke="#2e3192" stroke-width="0.60"/>
<path d="M596.40,118.20 V114.30 Q596.40,112.90 597.80,112.90 H600.60" fill="none" stroke="#2e3192" stroke-width="0.75"/>
<path d="M599.10,111.40 L600.60,112.90 L599.10,114.40" fill="none" stroke="#2e3192" stroke-width="0.75"/>
<rect x="596.30" y="118.20" width="20.20" height="6.40" fill="#2e3192"/>
<text x="606.40" y="123.40" font-size="5.60" fill="#fff" font-style="italic" font-weight="normal" text-anchor="middle" stroke="none">Sc-A</text>
<polyline points="606.60,112.70 607.01,112.39 607.43,112.08 607.84,111.79 608.25,111.52 608.66,111.29 609.08,111.08 609.49,110.92 609.90,110.80 610.31,110.72 610.73,110.70 611.14,110.72 611.55,110.80 611.96,110.92 612.38,111.08 612.79,111.29 613.20,111.52 613.61,111.79 614.02,112.08 614.44,112.39 614.85,112.70 615.26,113.01 615.68,113.32 616.09,113.61 616.50,113.88 616.91,114.11 617.33,114.32 617.74,114.48 618.15,114.60 618.56,114.68 618.98,114.70 619.39,114.68 619.80,114.60 620.21,114.48 620.62,114.32 621.04,114.11 621.45,113.88 621.86,113.61 622.27,113.32 622.69,113.01 623.10,112.70" fill="none" stroke="#2e3192" stroke-width="0.45"/>
<polyline points="606.60,112.84 607.01,112.54 607.43,112.26 607.84,112.02 608.25,111.82 608.66,111.66 609.08,111.56 609.49,111.51 609.90,111.51 610.31,111.56 610.73,111.67 611.14,111.83 611.55,112.04 611.96,112.28 612.38,112.56 612.79,112.87 613.20,113.20 613.61,113.54 614.02,113.89 614.44,114.23 614.85,114.56 615.26,114.86 615.68,115.14 616.09,115.38 616.50,115.58 616.91,115.74 617.33,115.84 617.74,115.89 618.15,115.89 618.56,115.84 618.98,115.73 619.39,115.57 619.80,115.36 620.21,115.12 620.62,114.84 621.04,114.53 621.45,114.20 621.86,113.86 622.27,113.51 622.69,113.17 623.10,112.84" fill="none" stroke="#2e3192" stroke-width="0.45"/>
<polyline points="606.60,114.70 607.01,114.39 607.43,114.08 607.84,113.79 608.25,113.52 608.66,113.29 609.08,113.08 609.49,112.92 609.90,112.80 610.31,112.72 610.73,112.70 611.14,112.72 611.55,112.80 611.96,112.92 612.38,113.08 612.79,113.29 613.20,113.52 613.61,113.79 614.02,114.08 614.44,114.39 614.85,114.70 615.26,115.01 615.68,115.32 616.09,115.61 616.50,115.88 616.91,116.11 617.33,116.32 617.74,116.48 618.15,116.60 618.56,116.68 618.98,116.70 619.39,116.68 619.80,116.60 620.21,116.48 620.62,116.32 621.04,116.11 621.45,115.88 621.86,115.61 622.27,115.32 622.69,115.01 623.10,114.70" fill="none" stroke="#2e3192" stroke-width="0.45"/>
<circle cx="576.40" cy="132.40" r="2.90" fill="none" stroke="#2e3192" stroke-width="0.85" stroke-dasharray="0.80 1.05"/>
<line x1="570.90" y1="137.90" x2="623.10" y2="137.90" stroke="#f0555b" stroke-width="0.80"/>
<circle cx="585.40" cy="132.40" r="3.30" fill="#ec1c24"/>
<rect x="582.70" y="136.60" width="6.00" height="3.00" rx="0.60" fill="#fff" stroke="#ec1c24" stroke-width="0.60"/>
<path d="M596.40,134.40 V130.50 Q596.40,129.10 597.80,129.10 H600.60" fill="none" stroke="#ec1c24" stroke-width="0.75"/>
<path d="M599.10,127.60 L600.60,129.10 L599.10,130.60" fill="none" stroke="#ec1c24" stroke-width="0.75"/>
<rect x="596.30" y="134.40" width="20.20" height="6.40" fill="#ec1c24"/>
<text x="606.40" y="139.60" font-size="5.60" fill="#fff" font-style="italic" font-weight="normal" text-anchor="middle" stroke="none">Km-A</text>
<polyline points="606.60,128.30 607.01,127.99 607.43,127.68 607.84,127.39 608.25,127.12 608.66,126.89 609.08,126.68 609.49,126.52 609.90,126.40 610.31,126.32 610.73,126.30 611.14,126.32 611.55,126.40 611.96,126.52 612.38,126.68 612.79,126.89 613.20,127.12 613.61,127.39 614.02,127.68 614.44,127.99 614.85,128.30 615.26,128.61 615.68,128.92 616.09,129.21 616.50,129.48 616.91,129.71 617.33,129.92 617.74,130.08 618.15,130.20 618.56,130.28 618.98,130.30 619.39,130.28 619.80,130.20 620.21,130.08 620.62,129.92 621.04,129.71 621.45,129.48 621.86,129.21 622.27,128.92 622.69,128.61 623.10,128.30" fill="none" stroke="#ec1c24" stroke-width="0.45"/>
<polyline points="606.60,128.44 607.01,128.14 607.43,127.86 607.84,127.62 608.25,127.42 608.66,127.26 609.08,127.16 609.49,127.11 609.90,127.11 610.31,127.16 610.73,127.27 611.14,127.43 611.55,127.64 611.96,127.88 612.38,128.16 612.79,128.47 613.20,128.80 613.61,129.14 614.02,129.49 614.44,129.83 614.85,130.16 615.26,130.46 615.68,130.74 616.09,130.98 616.50,131.18 616.91,131.34 617.33,131.44 617.74,131.49 618.15,131.49 618.56,131.44 618.98,131.33 619.39,131.17 619.80,130.96 620.21,130.72 620.62,130.44 621.04,130.13 621.45,129.80 621.86,129.46 622.27,129.11 622.69,128.77 623.10,128.44" fill="none" stroke="#ec1c24" stroke-width="0.45"/>
<polyline points="606.60,130.30 607.01,129.99 607.43,129.68 607.84,129.39 608.25,129.12 608.66,128.89 609.08,128.68 609.49,128.52 609.90,128.40 610.31,128.32 610.73,128.30 611.14,128.32 611.55,128.40 611.96,128.52 612.38,128.68 612.79,128.89 613.20,129.12 613.61,129.39 614.02,129.68 614.44,129.99 614.85,130.30 615.26,130.61 615.68,130.92 616.09,131.21 616.50,131.48 616.91,131.71 617.33,131.92 617.74,132.08 618.15,132.20 618.56,132.28 618.98,132.30 619.39,132.28 619.80,132.20 620.21,132.08 620.62,131.92 621.04,131.71 621.45,131.48 621.86,131.21 622.27,130.92 622.69,130.61 623.10,130.30" fill="none" stroke="#ec1c24" stroke-width="0.45"/>
<polyline points="606.60,130.44 607.01,130.14 607.43,129.86 607.84,129.62 608.25,129.42 608.66,129.26 609.08,129.16 609.49,129.11 609.90,129.11 610.31,129.16 610.73,129.27 611.14,129.43 611.55,129.64 611.96,129.88 612.38,130.16 612.79,130.47 613.20,130.80 613.61,131.14 614.02,131.49 614.44,131.83 614.85,132.16 615.26,132.46 615.68,132.74 616.09,132.98 616.50,133.18 616.91,133.34 617.33,133.44 617.74,133.49 618.15,133.49 618.56,133.44 618.98,133.33 619.39,133.17 619.80,132.96 620.21,132.72 620.62,132.44 621.04,132.13 621.45,131.80 621.86,131.46 622.27,131.11 622.69,130.77 623.10,130.44" fill="none" stroke="#ec1c24" stroke-width="0.45"/>
<text x="0.5" y="184.3" font-size="11.6" fill="#000" font-weight="bold" font-style="normal" text-anchor="start"  stroke="none">d</text>
<line x1="35.17" y1="175.0" x2="35.17" y2="298.2" stroke="#ebebeb" stroke-width="0.6"/>
<line x1="19.7" y1="283.40" x2="142.8" y2="283.40" stroke="#ebebeb" stroke-width="0.6"/>
<line x1="50.55" y1="175.0" x2="50.55" y2="298.2" stroke="#ebebeb" stroke-width="0.6"/>
<line x1="19.7" y1="267.80" x2="142.8" y2="267.80" stroke="#ebebeb" stroke-width="0.6"/>
<line x1="65.92" y1="175.0" x2="65.92" y2="298.2" stroke="#ebebeb" stroke-width="0.6"/>
<line x1="19.7" y1="252.20" x2="142.8" y2="252.20" stroke="#ebebeb" stroke-width="0.6"/>
<line x1="96.67" y1="175.0" x2="96.67" y2="298.2" stroke="#ebebeb" stroke-width="0.6"/>
<line x1="19.7" y1="221.00" x2="142.8" y2="221.00" stroke="#ebebeb" stroke-width="0.6"/>
<line x1="112.05" y1="175.0" x2="112.05" y2="298.2" stroke="#ebebeb" stroke-width="0.6"/>
<line x1="19.7" y1="205.40" x2="142.8" y2="205.40" stroke="#ebebeb" stroke-width="0.6"/>
<line x1="127.42" y1="175.0" x2="127.42" y2="298.2" stroke="#ebebeb" stroke-width="0.6"/>
<line x1="19.7" y1="189.80" x2="142.8" y2="189.80" stroke="#ebebeb" stroke-width="0.6"/>
<rect x="19.9" y="175.0" width="122.90" height="123.20" fill="none" stroke="#333" stroke-width="1.3"/>
<circle cx="56.1" cy="248.9" r="1.35" fill="#e3a735" fill-opacity="0.8"/>
<circle cx="59.4" cy="248.1" r="1.35" fill="#e3a735" fill-opacity="0.8"/>
<circle cx="64.8" cy="248.9" r="1.35" fill="#e3a735" fill-opacity="0.8"/>
<circle cx="70.1" cy="245.2" r="1.35" fill="#e3a735" fill-opacity="0.8"/>
<circle cx="72.3" cy="244.9" r="1.35" fill="#e3a735" fill-opacity="0.8"/>
<circle cx="75.5" cy="248.1" r="1.35" fill="#e3a735" fill-opacity="0.8"/>
<circle cx="72.3" cy="240.1" r="1.35" fill="#e3a735" fill-opacity="0.8"/>
<circle cx="73.4" cy="241.7" r="1.35" fill="#e3a735" fill-opacity="0.8"/>
<circle cx="75.5" cy="242.8" r="1.35" fill="#e3a735" fill-opacity="0.8"/>
<circle cx="76.6" cy="244.4" r="1.35" fill="#e3a735" fill-opacity="0.8"/>
<circle cx="74.4" cy="243.8" r="1.35" fill="#e3a735" fill-opacity="0.8"/>
<circle cx="84.1" cy="227.2" r="1.35" fill="#e3a735" fill-opacity="0.8"/>
<circle cx="87.4" cy="228.2" r="1.35" fill="#e3a735" fill-opacity="0.8"/>
<circle cx="84.7" cy="229.8" r="1.35" fill="#e3a735" fill-opacity="0.8"/>
<circle cx="93.8" cy="228.8" r="1.35" fill="#e3a735" fill-opacity="0.8"/>
<circle cx="96" cy="229.8" r="1.35" fill="#e3a735" fill-opacity="0.8"/>
<circle cx="94.9" cy="231.5" r="1.35" fill="#e3a735" fill-opacity="0.8"/>
<circle cx="90.6" cy="233.1" r="1.35" fill="#e3a735" fill-opacity="0.8"/>
<circle cx="91.7" cy="234.1" r="1.35" fill="#e3a735" fill-opacity="0.8"/>
<circle cx="93.8" cy="233.6" r="1.35" fill="#e3a735" fill-opacity="0.8"/>
<circle cx="86.9" cy="220.8" r="1.35" fill="#e3a735" fill-opacity="0.8"/>
<circle cx="85.4" cy="221.5" r="1.35" fill="#e3a735" fill-opacity="0.8"/>
<circle cx="83.8" cy="223.8" r="1.35" fill="#e3a735" fill-opacity="0.8"/>
<circle cx="91.5" cy="223.8" r="1.35" fill="#e3a735" fill-opacity="0.8"/>
<circle cx="88.5" cy="234.6" r="1.35" fill="#e3a735" fill-opacity="0.8"/>
<circle cx="90.8" cy="233" r="1.35" fill="#e3a735" fill-opacity="0.8"/>
<circle cx="96.2" cy="231.5" r="1.35" fill="#e3a735" fill-opacity="0.8"/>
<circle cx="74.6" cy="246.5" r="1.35" fill="#e3a735" fill-opacity="0.8"/>
<circle cx="76.5" cy="246" r="1.35" fill="#e3a735" fill-opacity="0.8"/>
<circle cx="71.0" cy="245.6" r="1.35" fill="#e3a735" fill-opacity="0.8"/>
<circle cx="75.4" cy="249.5" r="1.35" fill="#e3a735" fill-opacity="0.8"/>
<circle cx="90" cy="214.4" r="1.35" fill="#e3a735" fill-opacity="0.8"/>
<circle cx="90.4" cy="215.6" r="1.35" fill="#e3a735" fill-opacity="0.8"/>
<circle cx="103.4" cy="183.7" r="1.35" fill="#e3a735" fill-opacity="0.8"/>
<circle cx="122.8" cy="204" r="1.35" fill="#e3a735" fill-opacity="0.8"/>
<circle cx="120" cy="222.6" r="1.35" fill="#e3a735" fill-opacity="0.8"/>
<circle cx="84.2" cy="226" r="1.35" fill="#e3a735" fill-opacity="0.8"/>
<circle cx="86.6" cy="230.6" r="1.35" fill="#e3a735" fill-opacity="0.8"/>
<circle cx="95.5" cy="227.8" r="1.35" fill="#e3a735" fill-opacity="0.8"/>
<circle cx="74.4" cy="226.1" r="1.35" fill="#45bf95" fill-opacity="0.8"/>
<circle cx="73.4" cy="229.8" r="1.35" fill="#45bf95" fill-opacity="0.8"/>
<circle cx="76.6" cy="229.8" r="1.35" fill="#45bf95" fill-opacity="0.8"/>
<circle cx="62.6" cy="233.1" r="1.35" fill="#45bf95" fill-opacity="0.8"/>
<circle cx="79.3" cy="232.5" r="1.35" fill="#45bf95" fill-opacity="0.8"/>
<circle cx="86.8" cy="242.8" r="1.35" fill="#45bf95" fill-opacity="0.8"/>
<circle cx="83.1" cy="246" r="1.35" fill="#45bf95" fill-opacity="0.8"/>
<circle cx="92.2" cy="247.6" r="1.35" fill="#45bf95" fill-opacity="0.8"/>
<circle cx="73.8" cy="223.8" r="1.35" fill="#45bf95" fill-opacity="0.8"/>
<circle cx="74.6" cy="225.4" r="1.35" fill="#45bf95" fill-opacity="0.8"/>
<circle cx="64.4" cy="233.8" r="1.35" fill="#45bf95" fill-opacity="0.8"/>
<circle cx="87.4" cy="244" r="1.35" fill="#45bf95" fill-opacity="0.8"/>
<circle cx="64.8" cy="233.6" r="1.35" fill="#3a80c4" fill-opacity="0.8"/>
<circle cx="63.7" cy="237.9" r="1.35" fill="#3a80c4" fill-opacity="0.8"/>
<circle cx="69.6" cy="236.3" r="1.35" fill="#3a80c4" fill-opacity="0.8"/>
<circle cx="69.6" cy="237.9" r="1.35" fill="#3a80c4" fill-opacity="0.8"/>
<circle cx="73.4" cy="235.2" r="1.35" fill="#3a80c4" fill-opacity="0.8"/>
<circle cx="77.7" cy="235.2" r="1.35" fill="#3a80c4" fill-opacity="0.8"/>
<circle cx="78.8" cy="234.2" r="1.35" fill="#3a80c4" fill-opacity="0.8"/>
<circle cx="85.2" cy="235.2" r="1.35" fill="#3a80c4" fill-opacity="0.8"/>
<circle cx="86.3" cy="234.2" r="1.35" fill="#3a80c4" fill-opacity="0.8"/>
<circle cx="85.2" cy="238.5" r="1.35" fill="#3a80c4" fill-opacity="0.8"/>
<circle cx="89" cy="239" r="1.35" fill="#3a80c4" fill-opacity="0.8"/>
<circle cx="98.1" cy="234.7" r="1.35" fill="#3a80c4" fill-opacity="0.8"/>
<circle cx="103.5" cy="239.5" r="1.35" fill="#3a80c4" fill-opacity="0.8"/>
<circle cx="89.5" cy="235.2" r="1.35" fill="#3a80c4" fill-opacity="0.8"/>
<circle cx="83.8" cy="237.7" r="1.35" fill="#3a80c4" fill-opacity="0.8"/>
<circle cx="87.5" cy="236.5" r="1.35" fill="#3a80c4" fill-opacity="0.8"/>
<circle cx="80.4" cy="236.0" r="1.35" fill="#3a80c4" fill-opacity="0.8"/>
<circle cx="82.6" cy="235.4" r="1.35" fill="#3a80c4" fill-opacity="0.8"/>
<circle cx="84.6" cy="234.0" r="1.35" fill="#3a80c4" fill-opacity="0.8"/>
<circle cx="81.4" cy="231.5" r="1.35" fill="#cf7cb6" fill-opacity="0.8"/>
<circle cx="79.8" cy="241.1" r="1.35" fill="#cf7cb6" fill-opacity="0.8"/>
<circle cx="82.5" cy="241.7" r="1.35" fill="#cf7cb6" fill-opacity="0.8"/>
<circle cx="83.1" cy="248.7" r="1.35" fill="#cf7cb6" fill-opacity="0.8"/>
<circle cx="82.5" cy="228.2" r="1.35" fill="#cf7cb6" fill-opacity="0.8"/>
<circle cx="80.4" cy="221.5" r="1.35" fill="#cf7cb6" fill-opacity="0.8"/>
<circle cx="81.0" cy="240.2" r="1.35" fill="#cf7cb6" fill-opacity="0.8"/>
<circle cx="82.0" cy="232.6" r="1.35" fill="#cf7cb6" fill-opacity="0.8"/>
<circle cx="75.5" cy="230.9" r="1.35" fill="#a8a8a8" fill-opacity="0.8"/>
<line x1="81.3" y1="175.0" x2="81.3" y2="298.2" stroke="#111" stroke-width="1.1"/>
<line x1="19.7" y1="236.6" x2="142.8" y2="236.6" stroke="#111" stroke-width="1.1"/>
<text x="99.4" y="181.3" font-size="7.5" fill="#e3a735" font-weight="normal" font-style="italic" text-anchor="start"  stroke="#e3a735" stroke-width="0.158">GEX1</text>
<text x="118.4" y="201.7" font-size="7.5" fill="#e3a735" font-weight="normal" font-style="italic" text-anchor="start"  stroke="#e3a735" stroke-width="0.158">SPS22</text>
<text x="86.2" y="211" font-size="7.5" fill="#e3a735" font-weight="normal" font-style="italic" text-anchor="start"  stroke="#e3a735" stroke-width="0.158">FLO9</text>
<text x="114.6" y="219.7" font-size="7.5" fill="#e3a735" font-weight="normal" font-style="italic" text-anchor="start"  stroke="#e3a735" stroke-width="0.158">RRT12</text>
<line x1="17.7" y1="205.40" x2="19.7" y2="205.40" stroke="#333" stroke-width="0.5"/>
<text x="17.4" y="207.90" font-size="7" fill="#4d4d4d" font-weight="normal" font-style="normal" text-anchor="end"  stroke="#4d4d4d" stroke-width="0.147">5</text>
<line x1="112.05" y1="298.2" x2="112.05" y2="300.2" stroke="#333" stroke-width="0.5"/>
<text x="112.90" y="306.9" font-size="7" fill="#4d4d4d" font-weight="normal" font-style="normal" text-anchor="middle"  stroke="#4d4d4d" stroke-width="0.147">5</text>
<line x1="17.7" y1="236.60" x2="19.7" y2="236.60" stroke="#333" stroke-width="0.5"/>
<text x="17.4" y="239.10" font-size="7" fill="#4d4d4d" font-weight="normal" font-style="normal" text-anchor="end"  stroke="#4d4d4d" stroke-width="0.147">0</text>
<line x1="81.30" y1="298.2" x2="81.30" y2="300.2" stroke="#333" stroke-width="0.5"/>
<text x="81.55" y="306.9" font-size="7" fill="#4d4d4d" font-weight="normal" font-style="normal" text-anchor="middle"  stroke="#4d4d4d" stroke-width="0.147">0</text>
<line x1="17.7" y1="267.80" x2="19.7" y2="267.80" stroke="#333" stroke-width="0.5"/>
<text x="17.4" y="270.30" font-size="7" fill="#4d4d4d" font-weight="normal" font-style="normal" text-anchor="end"  stroke="#4d4d4d" stroke-width="0.147">−5</text>
<line x1="50.55" y1="298.2" x2="50.55" y2="300.2" stroke="#333" stroke-width="0.5"/>
<text x="51.60" y="306.9" font-size="7" fill="#4d4d4d" font-weight="normal" font-style="normal" text-anchor="middle"  stroke="#4d4d4d" stroke-width="0.147">−5</text>
<text x="83.2" y="316.1" font-size="9.4" fill="#111111" text-anchor="middle" stroke="#111111" stroke-width="0.197">log2(<tspan font-style="italic">KSsc/KSkm</tspan>)</text>
<text transform="translate(9.4,233.4) rotate(-90)" x="0" y="0" font-size="9.6" fill="#111111" text-anchor="middle" stroke="#111111" stroke-width="0.202">log2(<tspan font-style="italic">KSsc/Psc</tspan>)</text>
<rect x="191" y="175.9" width="12.90" height="20.70" fill="#a6a6a6"/>
<rect x="191" y="200.0" width="29.10" height="20.50" fill="#3b7dc0"/>
<rect x="191" y="223.7" width="12.90" height="20.70" fill="#3faa72"/>
<rect x="191" y="247.0" width="22.20" height="21.30" fill="#cd7ab5"/>
<rect x="191" y="271.4" width="47.20" height="20.40" fill="#e0a02c"/>
<text x="186.4" y="184.8" font-size="7" fill="#4d4d4d" font-weight="normal" font-style="normal" text-anchor="end"  stroke="#4d4d4d" stroke-width="0.147">Other</text>
<text x="169.85" y="194.0" font-size="7" fill="#4d4d4d" font-weight="normal" font-style="normal" text-anchor="middle"  stroke="#4d4d4d" stroke-width="0.147">(conserved)</text>
<text x="188.3" y="210.6" font-size="7" fill="#4d4d4d" text-anchor="end" stroke="#4d4d4d" stroke-width="0.147"><tspan font-style="italic">Sc</tspan>−like</text>
<text x="188.0" y="235.1" font-size="7" fill="#4d4d4d" font-weight="normal" font-style="normal" text-anchor="end"  stroke="#4d4d4d" stroke-width="0.147">Intermediate</text>
<text x="188.0" y="259" font-size="7" fill="#4d4d4d" text-anchor="end" stroke="#4d4d4d" stroke-width="0.147"><tspan font-style="italic">Km</tspan>−like</text>
<text x="188.0" y="283.2" font-size="7" fill="#4d4d4d" font-weight="normal" font-style="normal" text-anchor="end"  stroke="#4d4d4d" stroke-width="0.147">Transgressive</text>
<text x="192.1" y="299.3" font-size="7" fill="#4d4d4d" font-weight="normal" font-style="normal" text-anchor="middle"  stroke="#4d4d4d" stroke-width="0.147">0</text>
<text x="205.7" y="299.3" font-size="7" fill="#4d4d4d" font-weight="normal" font-style="normal" text-anchor="middle"  stroke="#4d4d4d" stroke-width="0.147">10</text>
<text x="217.6" y="299.3" font-size="7" fill="#4d4d4d" font-weight="normal" font-style="normal" text-anchor="middle"  stroke="#4d4d4d" stroke-width="0.147">20</text>
<text x="229.1" y="299.3" font-size="7" fill="#4d4d4d" font-weight="normal" font-style="normal" text-anchor="middle"  stroke="#4d4d4d" stroke-width="0.147">30</text>
<text x="241.0" y="299.3" font-size="7" fill="#4d4d4d" font-weight="normal" font-style="normal" text-anchor="middle"  stroke="#4d4d4d" stroke-width="0.147">40</text>
<text x="214.2" y="310.2" font-size="9.4" fill="#111111" text-anchor="middle" stroke="#111111" stroke-width="0.197"># of <tspan font-style="italic">Sc</tspan> genes</text>
<text x="214.5" y="321.3" font-size="9.4" fill="#111111" font-weight="normal" font-style="normal" text-anchor="middle"  stroke="#111111" stroke-width="0.197">(out of 102)</text>
<text x="245.5" y="184.8" font-size="11.6" fill="#000" font-weight="bold" font-style="normal" text-anchor="start"  stroke="none">e</text>
<rect x="268.4" y="182.0" width="122.50" height="111.60" fill="#ebebeb"/>
<line x1="269.35" y1="182.0" x2="269.35" y2="293.6" stroke="#fff" stroke-width="0.5"/>
<line x1="296.45" y1="182.0" x2="296.45" y2="293.6" stroke="#fff" stroke-width="0.5"/>
<line x1="323.55" y1="182.0" x2="323.55" y2="293.6" stroke="#fff" stroke-width="0.5"/>
<line x1="350.65" y1="182.0" x2="350.65" y2="293.6" stroke="#fff" stroke-width="0.5"/>
<line x1="377.75" y1="182.0" x2="377.75" y2="293.6" stroke="#fff" stroke-width="0.5"/>
<line x1="268.4" y1="192.40" x2="390.9" y2="192.40" stroke="#fff" stroke-width="0.5"/>
<line x1="268.4" y1="214.00" x2="390.9" y2="214.00" stroke="#fff" stroke-width="0.5"/>
<line x1="268.4" y1="235.60" x2="390.9" y2="235.60" stroke="#fff" stroke-width="0.5"/>
<line x1="268.4" y1="257.20" x2="390.9" y2="257.20" stroke="#fff" stroke-width="0.5"/>
<line x1="268.4" y1="278.80" x2="390.9" y2="278.80" stroke="#fff" stroke-width="0.5"/>
<line x1="282.90" y1="182.0" x2="282.90" y2="293.6" stroke="#fff" stroke-width="1.0"/>
<line x1="310.00" y1="182.0" x2="310.00" y2="293.6" stroke="#fff" stroke-width="1.0"/>
<line x1="337.10" y1="182.0" x2="337.10" y2="293.6" stroke="#fff" stroke-width="1.0"/>
<line x1="364.20" y1="182.0" x2="364.20" y2="293.6" stroke="#fff" stroke-width="1.0"/>
<line x1="268.4" y1="203.20" x2="390.9" y2="203.20" stroke="#fff" stroke-width="1.0"/>
<line x1="268.4" y1="224.80" x2="390.9" y2="224.80" stroke="#fff" stroke-width="1.0"/>
<line x1="268.4" y1="246.40" x2="390.9" y2="246.40" stroke="#fff" stroke-width="1.0"/>
<line x1="268.4" y1="268.00" x2="390.9" y2="268.00" stroke="#fff" stroke-width="1.0"/>
<line x1="268.4" y1="289.60" x2="390.9" y2="289.60" stroke="#fff" stroke-width="1.0"/>
<rect x="279.15" y="185.85" width="2.5" height="2.5" fill="#52c9b8"/>
<rect x="275.85" y="190.35" width="2.5" height="2.5" fill="#52c9b8"/>
<circle cx="279.1" cy="190.8" r="1.4" fill="#52c9b8"/>
<circle cx="281.2" cy="190.8" r="1.4" fill="#52c9b8"/>
<path d="M283.70,189.05 L285.25,191.80 L282.15,191.80 Z" fill="#52c9b8"/>
<rect x="272.05" y="195.75" width="2.5" height="2.5" fill="#52c9b8"/>
<circle cx="279.3" cy="196.6" r="1.4" fill="#52c9b8"/>
<path d="M279.80,199.05 L281.35,201.80 L278.25,201.80 Z" fill="#52c9b8"/>
<circle cx="279.8" cy="202.4" r="1.4" fill="#52c9b8"/>
<rect x="360.45" y="216.05" width="2.5" height="2.5" fill="#e97a52"/>
<rect x="365.35" y="216.25" width="2.5" height="2.5" fill="#e97a52"/>
<circle cx="366.9" cy="213.0" r="1.4" fill="#e97a52"/>
<path d="M376.00,209.95 L377.55,212.70 L374.45,212.70 Z" fill="#e97a52"/>
<path d="M373.30,218.85 L374.85,221.60 L371.75,221.60 Z" fill="#e97a52"/>
<path d="M374.20,222.05 L375.75,224.80 L372.65,224.80 Z" fill="#e97a52"/>
<circle cx="379.6" cy="211.2" r="1.4" fill="#e97a52"/>
<circle cx="381.4" cy="214.6" r="1.4" fill="#e97a52"/>
<circle cx="383.0" cy="217.9" r="1.4" fill="#e97a52"/>
<rect x="366.15" y="198.05" width="2.5" height="2.5" fill="#e41e28"/>
<rect x="364.25" y="202.35" width="2.5" height="2.5" fill="#e41e28"/>
<rect x="369.35" y="202.35" width="2.5" height="2.5" fill="#e41e28"/>
<path d="M377.10,217.75 L378.65,220.50 L375.55,220.50 Z" fill="#e41e28"/>
<path d="M380.60,216.15 L382.15,218.90 L379.05,218.90 Z" fill="#e41e28"/>
<circle cx="385.2" cy="214.1" r="1.4" fill="#e41e28"/>
<circle cx="385.7" cy="215.4" r="1.4" fill="#e41e28"/>
<circle cx="384.3" cy="215.5" r="1.4" fill="#e41e28"/>
<rect x="315.55" y="265.85" width="2.5" height="2.5" fill="#374ba5"/>
<rect x="315.05" y="267.15" width="2.5" height="2.5" fill="#374ba5"/>
<circle cx="315.6" cy="269.4" r="1.4" fill="#374ba5"/>
<rect x="312.45" y="269.35" width="2.5" height="2.5" fill="#374ba5"/>
<path d="M321.90,273.25 L323.45,276.00 L320.35,276.00 Z" fill="#374ba5"/>
<circle cx="321.0" cy="278.7" r="1.4" fill="#374ba5"/>
<path d="M321.70,280.15 L323.25,282.90 L320.15,282.90 Z" fill="#374ba5"/>
<circle cx="316.0" cy="285.8" r="1.4" fill="#374ba5"/>
<circle cx="315.6" cy="288.7" r="1.4" fill="#374ba5"/>
<line x1="266.4" y1="203.20" x2="268.4" y2="203.20" stroke="#333" stroke-width="0.5"/>
<text x="265.4" y="205.60" font-size="6.8" fill="#4d4d4d" font-weight="normal" font-style="normal" text-anchor="end"  stroke="#4d4d4d" stroke-width="0.143">4</text>
<line x1="266.4" y1="224.80" x2="268.4" y2="224.80" stroke="#333" stroke-width="0.5"/>
<text x="265.4" y="227.20" font-size="6.8" fill="#4d4d4d" font-weight="normal" font-style="normal" text-anchor="end"  stroke="#4d4d4d" stroke-width="0.143">0</text>
<line x1="266.4" y1="246.40" x2="268.4" y2="246.40" stroke="#333" stroke-width="0.5"/>
<text x="265.4" y="248.80" font-size="6.8" fill="#4d4d4d" font-weight="normal" font-style="normal" text-anchor="end"  stroke="#4d4d4d" stroke-width="0.143">−4</text>
<line x1="266.4" y1="268.00" x2="268.4" y2="268.00" stroke="#333" stroke-width="0.5"/>
<text x="265.4" y="270.40" font-size="6.8" fill="#4d4d4d" font-weight="normal" font-style="normal" text-anchor="end"  stroke="#4d4d4d" stroke-width="0.143">−8</text>
<line x1="266.4" y1="289.60" x2="268.4" y2="289.60" stroke="#333" stroke-width="0.5"/>
<text x="265.4" y="292.00" font-size="6.8" fill="#4d4d4d" font-weight="normal" font-style="normal" text-anchor="end"  stroke="#4d4d4d" stroke-width="0.143">−12</text>
<line x1="282.90" y1="293.6" x2="282.90" y2="295.6" stroke="#333" stroke-width="0.5"/>
<text x="285.00" y="300.8" font-size="6.8" fill="#4d4d4d" font-weight="normal" font-style="normal" text-anchor="middle"  stroke="#4d4d4d" stroke-width="0.143">−10</text>
<line x1="310.00" y1="293.6" x2="310.00" y2="295.6" stroke="#333" stroke-width="0.5"/>
<text x="311.00" y="300.8" font-size="6.8" fill="#4d4d4d" font-weight="normal" font-style="normal" text-anchor="middle"  stroke="#4d4d4d" stroke-width="0.143">−5</text>
<line x1="337.10" y1="293.6" x2="337.10" y2="295.6" stroke="#333" stroke-width="0.5"/>
<text x="336.60" y="300.8" font-size="6.8" fill="#4d4d4d" font-weight="normal" font-style="normal" text-anchor="middle"  stroke="#4d4d4d" stroke-width="0.143">0</text>
<line x1="364.20" y1="293.6" x2="364.20" y2="295.6" stroke="#333" stroke-width="0.5"/>
<text x="363.90" y="300.8" font-size="6.8" fill="#4d4d4d" font-weight="normal" font-style="normal" text-anchor="middle"  stroke="#4d4d4d" stroke-width="0.143">5</text>
<line x1="391.30" y1="293.6" x2="391.30" y2="295.6" stroke="#333" stroke-width="0.5"/>
<text x="391.50" y="300.8" font-size="6.8" fill="#4d4d4d" font-weight="normal" font-style="normal" text-anchor="middle"  stroke="#4d4d4d" stroke-width="0.143">10</text>
<text x="332.3" y="313.4" font-size="9.3" fill="#111111" font-weight="normal" font-style="normal" text-anchor="middle"  stroke="#111111" stroke-width="0.195">PC1: 43% variance</text>
<text transform="translate(255.6,237.2) rotate(-90)" font-size="9.4" fill="#111111" text-anchor="middle" stroke="#111111" stroke-width="0.197">PC2: 26% variance</text>
<text x="397" y="204" font-size="8" fill="#111111" font-weight="bold" font-style="normal" text-anchor="start"  stroke="none">Strain-allele</text>
<rect x="396.7" y="207.2" width="7.5" height="32" fill="#f2f2f2"/>
<circle cx="400.4" cy="211.30" r="2.3" fill="#e97a52"/>
<text x="407.3" y="214.20" font-size="8" fill="#111111" font-weight="normal" font-style="italic" text-anchor="start"  stroke="#111111" stroke-width="0.168">KSkm</text>
<circle cx="400.4" cy="219.25" r="2.3" fill="#52c9b8"/>
<text x="407.3" y="222.15" font-size="8" fill="#111111" font-weight="normal" font-style="italic" text-anchor="start"  stroke="#111111" stroke-width="0.168">KSsc</text>
<circle cx="400.4" cy="227.20" r="2.3" fill="#e41e28"/>
<text x="407.3" y="230.10" font-size="8" fill="#111111" font-weight="normal" font-style="italic" text-anchor="start"  stroke="#111111" stroke-width="0.168">Pkm</text>
<circle cx="400.4" cy="235.15" r="2.3" fill="#374ba5"/>
<text x="407.3" y="238.05" font-size="8" fill="#111111" font-weight="normal" font-style="italic" text-anchor="start"  stroke="#111111" stroke-width="0.168">Psc</text>
<text x="397" y="253.8" font-size="8" fill="#111111" font-weight="bold" font-style="normal" text-anchor="start"  stroke="none">Treatment</text>
<rect x="396.7" y="255.6" width="7.5" height="24.6" fill="#f2f2f2"/>
<rect x="399.0" y="258.9" width="2.8" height="2.8" fill="#111"/>
<circle cx="400.4" cy="268.2" r="1.95" fill="#111"/>
<path d="M400.4,274.1 L402.3,277.5 L398.5,277.5 Z" fill="#111"/>
<text x="407.0" y="262.3" font-size="8" fill="#111111" font-weight="normal" font-style="normal" text-anchor="start"  stroke="#111111" stroke-width="0.168">YPD</text>
<text x="407.0" y="270.7" font-size="8" fill="#111111" font-weight="normal" font-style="normal" text-anchor="start"  stroke="#111111" stroke-width="0.168">NaCl</text>
<text x="407.0" y="279.2" font-size="8" fill="#111111" font-weight="normal" font-style="normal" text-anchor="start"  stroke="#111111" stroke-width="0.168">TM</text>
<text x="445.9" y="184.7" font-size="11.6" fill="#000" font-weight="bold" font-style="normal" text-anchor="start"  stroke="none">f</text>
<text x="461.1" y="183.6" font-size="10.5" fill="#111111" font-weight="normal" font-style="normal" text-anchor="start"  stroke="#111111" stroke-width="0.221">Transgressive expression informs</text>
<text x="461.1" y="195.6" font-size="10.5" fill="#111111" font-weight="normal" font-style="normal" text-anchor="start"  stroke="#111111" stroke-width="0.221">compensatory evolution</text>
<ellipse cx="501.8" cy="216.9" rx="8.1" ry="5.1" fill="#e8e8e8"/>
<ellipse cx="483" cy="229.6" rx="23.2" ry="14.2" fill="#e8e8e8"/>
<line x1="464.7" y1="231.3" x2="500.7" y2="231.3" stroke="#444" stroke-width="0.75"/>
<circle cx="474.4" cy="227.8" r="2.35" fill="#555"/>
<rect x="472.2" y="229.9" width="4.4" height="2.2" rx="0.6" fill="#fff" stroke="#444" stroke-width="0.35"/>
<path d="M482.40,229.20 V227.02 Q482.40,225.90 483.52,225.90 H485.20" fill="none" stroke="#444" stroke-width="0.65"/>
<path d="M484.00,224.70 L485.20,225.90 L484.00,227.10" fill="none" stroke="#444" stroke-width="0.65"/>
<rect x="482.00" y="229.20" width="13.90" height="4.20" fill="#4d4d4d"/>
<text x="488.95" y="232.66" font-size="3.80" fill="#fff" font-style="italic" font-weight="normal" text-anchor="middle" stroke="none">Anc-A</text>
<polyline points="489.60,221.80 489.88,221.63 490.16,221.46 490.43,221.30 490.71,221.15 490.99,221.02 491.27,220.91 491.54,220.82 491.82,220.75 492.10,220.71 492.38,220.70 492.65,220.71 492.93,220.75 493.21,220.82 493.49,220.91 493.76,221.02 494.04,221.15 494.32,221.30 494.60,221.46 494.87,221.63 495.15,221.80 495.43,221.97 495.70,222.14 495.98,222.30 496.26,222.45 496.54,222.58 496.81,222.69 497.09,222.78 497.37,222.85 497.65,222.89 497.93,222.90 498.20,222.89 498.48,222.85 498.76,222.78 499.03,222.69 499.31,222.58 499.59,222.45 499.87,222.30 500.14,222.14 500.42,221.97 500.70,221.80" fill="none" stroke="#444" stroke-width="0.65"/>
<polyline points="489.60,224.20 489.88,224.03 490.16,223.86 490.43,223.70 490.71,223.55 490.99,223.42 491.27,223.31 491.54,223.22 491.82,223.15 492.10,223.11 492.38,223.10 492.65,223.11 492.93,223.15 493.21,223.22 493.49,223.31 493.76,223.42 494.04,223.55 494.32,223.70 494.60,223.86 494.87,224.03 495.15,224.20 495.43,224.37 495.70,224.54 495.98,224.70 496.26,224.85 496.54,224.98 496.81,225.09 497.09,225.18 497.37,225.25 497.65,225.29 497.93,225.30 498.20,225.29 498.48,225.25 498.76,225.18 499.03,225.09 499.31,224.98 499.59,224.85 499.87,224.70 500.14,224.54 500.42,224.37 500.70,224.20" fill="none" stroke="#444" stroke-width="0.65"/>
<line x1="510" y1="228" x2="575" y2="208.1" stroke="#333" stroke-width="0.65"/>
<path d="M571.4,207.4 L575.3,208 L572.4,210.6" fill="none" stroke="#333" stroke-width="0.65"/>
<line x1="510" y1="228" x2="575" y2="249.3" stroke="#333" stroke-width="0.65"/>
<path d="M572.4,246.6 L575.3,249.4 L571.4,249.9" fill="none" stroke="#333" stroke-width="0.65"/>
<rect x="533.45" y="217.10" width="2.30" height="6.60" fill="#2e3192"/>
<path d="M532.94,213.60 H536.26" stroke="#111" stroke-width="0.8"/>
<rect x="540.85" y="214.80" width="2.30" height="6.40" fill="#fff" stroke="#5b5fb0" stroke-width="0.6"/>
<path d="M539.70,210.60 H544.30 M542.00,208.30 V212.90" stroke="#111" stroke-width="0.8"/>
<rect x="548.25" y="212.30" width="2.30" height="6.60" fill="#2e3192"/>
<path d="M547.74,209.00 H551.06" stroke="#111" stroke-width="0.8"/>
<rect x="555.25" y="209.80" width="2.30" height="6.40" fill="#fff" stroke="#5b5fb0" stroke-width="0.6"/>
<path d="M554.10,205.40 H558.70 M556.40,203.10 V207.70" stroke="#111" stroke-width="0.8"/>
<rect x="561.45" y="208.30" width="2.30" height="6.60" fill="#2e3192"/>
<path d="M560.94,203.60 H564.26" stroke="#111" stroke-width="0.8"/>
<rect x="543.45" y="236.10" width="2.30" height="6.60" fill="#ec1c24"/>
<path d="M542.30,232.40 H546.90 M544.60,230.10 V234.70" stroke="#111" stroke-width="0.8"/>
<rect x="550.45" y="238.60" width="2.30" height="6.40" fill="#fff" stroke="#ec1c24" stroke-width="0.6"/>
<path d="M549.94,235.00 H553.26" stroke="#111" stroke-width="0.8"/>
<rect x="557.85" y="240.90" width="2.30" height="6.60" fill="#ec1c24"/>
<path d="M556.70,237.00 H561.30 M559.00,234.70 V239.30" stroke="#111" stroke-width="0.8"/>
<ellipse cx="623" cy="191.2" rx="8.6" ry="4.9" fill="#d3d5ec"/>
<ellipse cx="604" cy="204.3" rx="23.5" ry="14.5" fill="#d3d5ec"/>
<line x1="585.4" y1="204.9" x2="621.4" y2="204.9" stroke="#2e3192" stroke-width="0.55"/>
<circle cx="595.8" cy="201.5" r="2.2" fill="#2e3192"/>
<rect x="593.7" y="203.5" width="4.2" height="2.4" rx="0.6" fill="#fff" stroke="#2e3192" stroke-width="0.35"/>
<path d="M604.10,204.90 V199.20 Q604.10,198.20 605.10,198.20 H606.60" fill="none" stroke="#2e3192" stroke-width="0.6"/>
<path d="M605.60,197.20 L606.60,198.20 L605.60,199.20" fill="none" stroke="#2e3192" stroke-width="0.6"/>
<rect x="603.40" y="202.90" width="13.10" height="4.50" fill="#2e3192"/>
<text x="609.95" y="206.58" font-size="4.00" fill="#fff" font-style="italic" font-weight="normal" text-anchor="middle" stroke="none">Sc-A</text>
<polyline points="610.30,199.40 610.56,199.56 610.82,199.71 611.08,199.85 611.34,199.99 611.60,200.11 611.86,200.21 612.12,200.29 612.38,200.35 612.64,200.39 612.90,200.40 613.16,200.39 613.42,200.35 613.68,200.29 613.94,200.21 614.20,200.11 614.46,199.99 614.72,199.85 614.98,199.71 615.24,199.56 615.50,199.40 615.76,199.24 616.02,199.09 616.28,198.95 616.54,198.81 616.80,198.69 617.06,198.59 617.32,198.51 617.58,198.45 617.84,198.41 618.10,198.40 618.36,198.41 618.62,198.45 618.88,198.51 619.14,198.59 619.40,198.69 619.66,198.81 619.92,198.95 620.18,199.09 620.44,199.24 620.70,199.40" fill="none" stroke="#2e3192" stroke-width="0.5"/>
<ellipse cx="622.5" cy="243.9" rx="9" ry="4.9" fill="#f6ced3"/>
<ellipse cx="604.3" cy="256.4" rx="23.7" ry="14.2" fill="#f6ced3"/>
<line x1="585.4" y1="258.6" x2="621.5" y2="258.6" stroke="#ec1c24" stroke-width="0.55"/>
<circle cx="595.4" cy="254.6" r="2.3" fill="#ec1c24"/>
<rect x="593.4" y="257.5" width="4.2" height="2.4" rx="0.6" fill="#fff" stroke="#ec1c24" stroke-width="0.35"/>
<path d="M603.60,258.60 V252.32 Q603.60,251.20 604.72,251.20 H606.40" fill="none" stroke="#ec1c24" stroke-width="0.6"/>
<path d="M605.40,250.20 L606.40,251.20 L605.40,252.20" fill="none" stroke="#ec1c24" stroke-width="0.6"/>
<rect x="603.10" y="256.30" width="14.40" height="4.40" fill="#ec1c24"/>
<text x="610.30" y="259.93" font-size="4.00" fill="#fff" font-style="italic" font-weight="normal" text-anchor="middle" stroke="none">Km-A</text>
<polyline points="610.60,248.60 610.87,248.39 611.14,248.19 611.42,248.02 611.69,247.87 611.96,247.77 612.24,247.71 612.51,247.70 612.78,247.74 613.05,247.83 613.33,247.96 613.60,248.13 613.87,248.32 614.14,248.53 614.41,248.74 614.69,248.94 614.96,249.13 615.23,249.28 615.50,249.40 615.78,249.48 616.05,249.50 616.32,249.48 616.60,249.40 616.87,249.28 617.14,249.13 617.41,248.94 617.69,248.74 617.96,248.53 618.23,248.32 618.50,248.13 618.77,247.96 619.05,247.83 619.32,247.74 619.59,247.70 619.87,247.71 620.14,247.77 620.41,247.87 620.68,248.02 620.96,248.19 621.23,248.39 621.50,248.60" fill="none" stroke="#ec1c24" stroke-width="0.5"/>
<polyline points="610.60,250.80 610.87,250.59 611.14,250.39 611.42,250.22 611.69,250.07 611.96,249.97 612.24,249.91 612.51,249.90 612.78,249.94 613.05,250.03 613.33,250.16 613.60,250.33 613.87,250.52 614.14,250.73 614.41,250.94 614.69,251.14 614.96,251.33 615.23,251.48 615.50,251.60 615.78,251.68 616.05,251.70 616.32,251.68 616.60,251.60 616.87,251.48 617.14,251.33 617.41,251.14 617.69,250.94 617.96,250.73 618.23,250.52 618.50,250.33 618.77,250.16 619.05,250.03 619.32,249.94 619.59,249.90 619.87,249.91 620.14,249.97 620.41,250.07 620.68,250.22 620.96,250.39 621.23,250.59 621.50,250.80" fill="none" stroke="#ec1c24" stroke-width="0.5"/>
<polyline points="610.60,253.00 610.87,252.79 611.14,252.59 611.42,252.42 611.69,252.27 611.96,252.17 612.24,252.11 612.51,252.10 612.78,252.14 613.05,252.23 613.33,252.36 613.60,252.53 613.87,252.72 614.14,252.93 614.41,253.14 614.69,253.34 614.96,253.53 615.23,253.68 615.50,253.80 615.78,253.88 616.05,253.90 616.32,253.88 616.60,253.80 616.87,253.68 617.14,253.53 617.41,253.34 617.69,253.14 617.96,252.93 618.23,252.72 618.50,252.53 618.77,252.36 619.05,252.23 619.32,252.14 619.59,252.10 619.87,252.11 620.14,252.17 620.41,252.27 620.68,252.42 620.96,252.59 621.23,252.79 621.50,253.00" fill="none" stroke="#ec1c24" stroke-width="0.5"/>
<text x="636.4" y="195.5" font-size="8.1" fill="#111111" font-weight="normal" font-style="normal" text-anchor="start"  stroke="#111111" stroke-width="0.170">Net outcome</text>
<path d="M658.06,205.70 H660.94" stroke="#111" stroke-width="0.75"/>
<path d="M657.60,255.50 H661.60 M659.60,253.50 V257.50" stroke="#111" stroke-width="0.75"/>
<text x="460.4" y="278.6" font-size="8.2" fill="#111111" font-weight="normal" font-style="normal" text-anchor="start"  stroke="#111111" stroke-width="0.172">Regulatory input in KS</text>
<text x="511.6" y="296.6" font-size="8.5" fill="#111111" font-weight="normal" font-style="italic" text-anchor="start"  stroke="#111111" stroke-width="0.178">Sc<tspan font-style="normal">:</tspan></text>
<text x="511.6" y="309.3" font-size="8.5" fill="#111111" font-weight="normal" font-style="italic" text-anchor="start"  stroke="#111111" stroke-width="0.178">Km<tspan font-style="normal">:</tspan></text>
<rect x="531.80" y="290.40" width="2.40" height="6.00" fill="#fff" stroke="#6d70bb" stroke-width="0.6"/>
<path d="M531.00,286.40 H535.00 M533.00,284.40 V288.40" stroke="#111" stroke-width="0.75"/>
<rect x="541.70" y="290.40" width="2.40" height="6.00" fill="#fff" stroke="#6d70bb" stroke-width="0.6"/>
<path d="M540.90,286.40 H544.90 M542.90,284.40 V288.40" stroke="#111" stroke-width="0.75"/>
<rect x="550.80" y="290.10" width="2.60" height="6.60" fill="#ec1c24"/>
<path d="M550.10,286.40 H554.10 M552.10,284.40 V288.40" stroke="#111" stroke-width="0.75"/>
<rect x="560.40" y="290.10" width="2.60" height="6.60" fill="#ec1c24"/>
<path d="M559.70,286.40 H563.70 M561.70,284.40 V288.40" stroke="#111" stroke-width="0.75"/>
<rect x="537.40" y="305.40" width="2.40" height="6.00" fill="#fff" stroke="#ec1c24" stroke-width="0.6"/>
<path d="M537.16,302.30 H540.04" stroke="#111" stroke-width="0.75"/>
<rect x="550.80" y="305.10" width="2.60" height="6.60" fill="#ec1c24"/>
<path d="M550.10,302.30 H554.10 M552.10,300.30 V304.30" stroke="#111" stroke-width="0.75"/>
<rect x="560.40" y="305.10" width="2.60" height="6.60" fill="#ec1c24"/>
<path d="M559.70,302.30 H563.70 M561.70,300.30 V304.30" stroke="#111" stroke-width="0.75"/>
<line x1="531" y1="316.3" x2="544.3" y2="316.3" stroke="#111" stroke-width="0.6"/>
<line x1="550.4" y1="316.3" x2="563.7" y2="316.3" stroke="#111" stroke-width="0.6"/>
<text x="532.4" y="323.6" font-size="8" fill="#111111" font-weight="normal" font-style="italic" text-anchor="start"  stroke="#111111" stroke-width="0.168">cis</text>
<text x="549.4" y="323.6" font-size="8" fill="#111111" font-weight="normal" font-style="italic" text-anchor="start"  stroke="#111111" stroke-width="0.168">trans</text>
<ellipse cx="624.4" cy="285.6" rx="9.5" ry="6.0" fill="none" stroke="#8c5fae" stroke-width="1.4"/>
<ellipse cx="603.6" cy="299.2" rx="26.3" ry="16.2" fill="none" stroke="#8c5fae" stroke-width="1.4"/>
<ellipse cx="624.4" cy="285.6" rx="9.5" ry="6.0" fill="#fff"/>
<ellipse cx="603.6" cy="299.2" rx="26.3" ry="16.2" fill="#fff"/>
<rect x="587" y="290.70" width="2.4" height="2.8" fill="none" stroke="#5b5fb0" stroke-width="0.4"/>
<line x1="584.9" y1="295.40" x2="618.4" y2="295.40" stroke="#2e3192" stroke-width="0.55"/>
<circle cx="594.8" cy="292.30" r="2.3" fill="#ec1c24"/>
<rect x="592.8" y="294.40" width="4.1" height="1.9" rx="0.5" fill="#fff" stroke="#2e3192" stroke-width="0.35"/>
<path d="M601.90,295.40 V290.64 Q601.90,289.80 602.74,289.80 H604.00" fill="none" stroke="#2e3192" stroke-width="0.55"/>
<path d="M603.10,288.90 L604.00,289.80 L603.10,290.70" fill="none" stroke="#2e3192" stroke-width="0.55"/>
<rect x="601.20" y="293.80" width="11.80" height="3.70" fill="#2e3192"/>
<text x="607.10" y="296.87" font-size="3.40" fill="#fff" font-style="italic" font-weight="normal" text-anchor="middle" stroke="none">Sc-A</text>
<polyline points="608.50,287.90 608.92,287.47 609.34,287.08 609.76,286.77 610.18,286.57 610.60,286.50 611.02,286.57 611.44,286.77 611.86,287.08 612.28,287.47 612.70,287.90 613.12,288.33 613.54,288.72 613.96,289.03 614.38,289.23 614.80,289.30 615.22,289.23 615.64,289.03 616.06,288.72 616.48,288.33 616.90,287.90 617.32,287.47 617.74,287.08 618.16,286.77 618.58,286.57 619.00,286.50 619.42,286.57 619.84,286.77 620.26,287.08 620.68,287.47 621.10,287.90 621.52,288.33 621.94,288.72 622.36,289.03 622.78,289.23 623.20,289.30 623.62,289.23 624.04,289.03 624.46,288.72 624.88,288.33 625.30,287.90" fill="none" stroke="#2e3192" stroke-width="0.6"/>
<polyline points="608.50,287.73 608.92,287.49 609.34,287.40 609.76,287.46 610.18,287.65 610.60,287.97 611.02,288.38 611.44,288.84 611.86,289.30 612.28,289.73 612.70,290.07 613.12,290.31 613.54,290.40 613.96,290.34 614.38,290.15 614.80,289.83 615.22,289.42 615.64,288.96 616.06,288.50 616.48,288.07 616.90,287.73 617.32,287.49 617.74,287.40 618.16,287.46 618.58,287.65 619.00,287.97 619.42,288.38 619.84,288.84 620.26,289.30 620.68,289.73 621.10,290.07 621.52,290.31 621.94,290.40 622.36,290.34 622.78,290.15 623.20,289.83 623.62,289.42 624.04,288.96 624.46,288.50 624.88,288.07 625.30,287.73" fill="none" stroke="#2e3192" stroke-width="0.6"/>
<polyline points="608.50,288.54 608.92,288.70 609.34,288.98 609.76,289.36 610.18,289.78 610.60,290.22 611.02,290.62 611.44,290.96 611.86,291.19 612.28,291.29 612.70,291.26 613.12,291.10 613.54,290.82 613.96,290.44 614.38,290.02 614.80,289.58 615.22,289.18 615.64,288.84 616.06,288.61 616.48,288.51 616.90,288.54 617.32,288.70 617.74,288.98 618.16,289.36 618.58,289.78 619.00,290.22 619.42,290.62 619.84,290.96 620.26,291.19 620.68,291.29 621.10,291.26 621.52,291.10 621.94,290.82 622.36,290.44 622.78,290.02 623.20,289.58 623.62,289.18 624.04,288.84 624.46,288.61 624.88,288.51 625.30,288.54" fill="none" stroke="#2e3192" stroke-width="0.6"/>
<polyline points="608.50,290.32 608.92,289.92 609.34,289.62 609.76,289.44 610.18,289.41 610.60,289.52 611.02,289.77 611.44,290.13 611.86,290.56 612.28,291.03 612.70,291.48 613.12,291.88 613.54,292.18 613.96,292.36 614.38,292.39 614.80,292.28 615.22,292.03 615.64,291.67 616.06,291.24 616.48,290.77 616.90,290.32 617.32,289.92 617.74,289.62 618.16,289.44 618.58,289.41 619.00,289.52 619.42,289.77 619.84,290.13 620.26,290.56 620.68,291.03 621.10,291.48 621.52,291.88 621.94,292.18 622.36,292.36 622.78,292.39 623.20,292.28 623.62,292.03 624.04,291.67 624.46,291.24 624.88,290.77 625.30,290.32" fill="none" stroke="#2e3192" stroke-width="0.6"/>
<rect x="587" y="301.20" width="2.4" height="2.8" fill="none" stroke="#5b5fb0" stroke-width="0.4"/>
<line x1="584.9" y1="305.90" x2="618.4" y2="305.90" stroke="#ec1c24" stroke-width="0.55"/>
<circle cx="594.8" cy="302.80" r="2.3" fill="#ec1c24"/>
<rect x="592.8" y="304.90" width="4.1" height="1.9" rx="0.5" fill="#fff" stroke="#ec1c24" stroke-width="0.35"/>
<path d="M601.90,305.90 V301.14 Q601.90,300.30 602.74,300.30 H604.00" fill="none" stroke="#ec1c24" stroke-width="0.55"/>
<path d="M603.10,299.40 L604.00,300.30 L603.10,301.20" fill="none" stroke="#ec1c24" stroke-width="0.55"/>
<rect x="601.20" y="304.30" width="11.80" height="3.70" fill="#ec1c24"/>
<text x="607.10" y="307.37" font-size="3.40" fill="#fff" font-style="italic" font-weight="normal" text-anchor="middle" stroke="none">Km-A</text>
<polyline points="608.50,299.90 608.74,299.67 608.97,299.45 609.21,299.25 609.44,299.09 609.67,298.98 609.91,298.91 610.14,298.90 610.38,298.95 610.62,299.05 610.85,299.19 611.09,299.38 611.32,299.59 611.55,299.82 611.79,300.06 612.02,300.28 612.26,300.49 612.50,300.66 612.73,300.79 612.97,300.87 613.20,300.90 613.43,300.87 613.67,300.79 613.90,300.66 614.14,300.49 614.38,300.28 614.61,300.06 614.85,299.82 615.08,299.59 615.31,299.38 615.55,299.19 615.78,299.05 616.02,298.95 616.25,298.90 616.49,298.91 616.73,298.98 616.96,299.09 617.19,299.25 617.43,299.45 617.66,299.67 617.90,299.90" fill="none" stroke="#ec1c24" stroke-width="0.6"/>
<polyline points="608.50,300.19 608.74,300.01 608.97,299.89 609.21,299.81 609.44,299.80 609.67,299.85 609.91,299.96 610.14,300.12 610.38,300.32 610.62,300.55 610.85,300.81 611.09,301.06 611.32,301.31 611.55,301.54 611.79,301.73 612.02,301.88 612.26,301.97 612.50,302.00 612.73,301.97 612.97,301.88 613.20,301.74 613.43,301.55 613.67,301.33 613.90,301.08 614.14,300.82 614.38,300.57 614.61,300.33 614.85,300.13 615.08,299.97 615.31,299.86 615.55,299.80 615.78,299.81 616.02,299.88 616.25,300.01 616.49,300.18 616.73,300.39 616.96,300.64 617.19,300.89 617.43,301.15 617.66,301.39 617.90,301.61" fill="none" stroke="#ec1c24" stroke-width="0.6"/>
<polyline points="608.50,301.90 608.74,301.67 608.97,301.45 609.21,301.25 609.44,301.09 609.67,300.98 609.91,300.91 610.14,300.90 610.38,300.95 610.62,301.05 610.85,301.19 611.09,301.38 611.32,301.59 611.55,301.82 611.79,302.06 612.02,302.28 612.26,302.49 612.50,302.66 612.73,302.79 612.97,302.87 613.20,302.90 613.43,302.87 613.67,302.79 613.90,302.66 614.14,302.49 614.38,302.28 614.61,302.06 614.85,301.82 615.08,301.59 615.31,301.38 615.55,301.19 615.78,301.05 616.02,300.95 616.25,300.90 616.49,300.91 616.73,300.98 616.96,301.09 617.19,301.25 617.43,301.45 617.66,301.67 617.90,301.90" fill="none" stroke="#ec1c24" stroke-width="0.6"/>
<text x="641.2" y="295.8" font-size="8.8" fill="#111111" stroke="#111111" stroke-width="0.185"><tspan font-style="italic">Sc</tspan>:</text>
<text x="641.2" y="307.0" font-size="8.8" fill="#111111" stroke="#111111" stroke-width="0.185"><tspan font-style="italic">Km</tspan>:</text>
<path d="M658.20,293.30 H662.20 M660.20,291.30 V295.30" stroke="#111" stroke-width="0.75"/>
<path d="M663.50,293.30 H667.50 M665.50,291.30 V295.30" stroke="#111" stroke-width="0.75"/>
<path d="M668.80,293.30 H672.80 M670.80,291.30 V295.30" stroke="#111" stroke-width="0.75"/>
<path d="M674.10,293.30 H678.10 M676.10,291.30 V295.30" stroke="#111" stroke-width="0.75"/>
<path d="M660.80,304.50 H664.80 M662.80,302.50 V306.50" stroke="#111" stroke-width="0.75"/>
</svg></body></html>
